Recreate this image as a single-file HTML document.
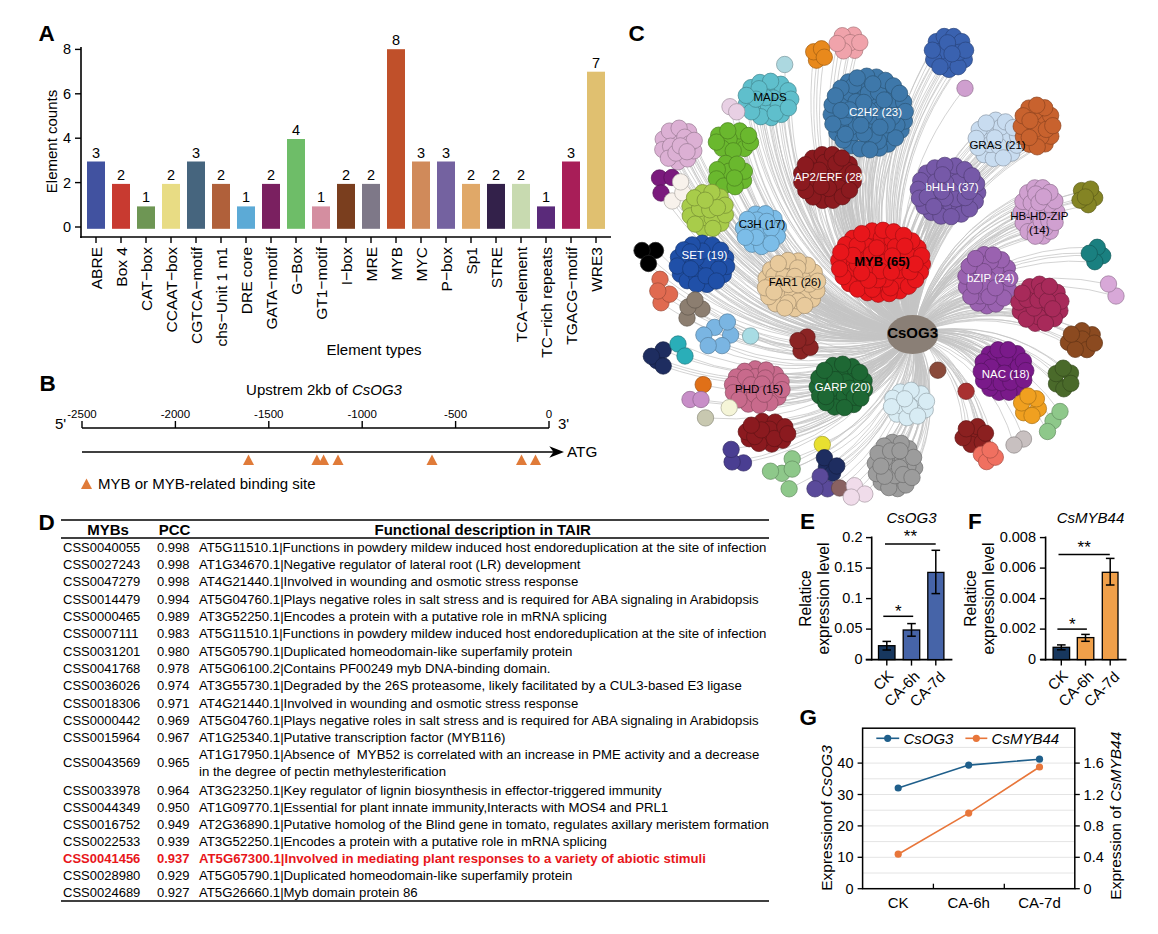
<!DOCTYPE html>
<html><head><meta charset="utf-8"><style>
html,body{margin:0;padding:0;background:#fff;}
svg{display:block;font-family:"Liberation Sans",sans-serif;}
</style></head><body>
<svg width="1158" height="934" viewBox="0 0 1158 934">
<rect width="1158" height="934" fill="#fff"/>
<text x="38.5" y="41.0" font-size="22.5" text-anchor="start" font-weight="bold" font-style="normal" fill="#000" >A</text>
<line x1="81.0" y1="47.0" x2="81.0" y2="238.0" stroke="#000" stroke-width="1.6"/>
<line x1="80.2" y1="237.0" x2="611.0" y2="237.0" stroke="#000" stroke-width="1.6"/>
<line x1="75.0" y1="227.0" x2="81.0" y2="227.0" stroke="#000" stroke-width="1.4"/>
<text x="71.0" y="232.0" font-size="14.5" text-anchor="end" font-weight="normal" font-style="normal" fill="#000" >0</text>
<line x1="75.0" y1="182.6" x2="81.0" y2="182.6" stroke="#000" stroke-width="1.4"/>
<text x="71.0" y="187.6" font-size="14.5" text-anchor="end" font-weight="normal" font-style="normal" fill="#000" >2</text>
<line x1="75.0" y1="138.2" x2="81.0" y2="138.2" stroke="#000" stroke-width="1.4"/>
<text x="71.0" y="143.2" font-size="14.5" text-anchor="end" font-weight="normal" font-style="normal" fill="#000" >4</text>
<line x1="75.0" y1="93.8" x2="81.0" y2="93.8" stroke="#000" stroke-width="1.4"/>
<text x="71.0" y="98.8" font-size="14.5" text-anchor="end" font-weight="normal" font-style="normal" fill="#000" >6</text>
<line x1="75.0" y1="49.4" x2="81.0" y2="49.4" stroke="#000" stroke-width="1.4"/>
<text x="71.0" y="54.4" font-size="14.5" text-anchor="end" font-weight="normal" font-style="normal" fill="#000" >8</text>
<text x="57.0" y="141.5" font-size="15" text-anchor="middle" font-weight="normal" font-style="normal" fill="#000" transform="rotate(-90 57 141.5)">Element counts</text>
<rect x="87.0" y="161.5" width="18.0" height="67.3" fill="#4152a0" stroke="none" stroke-width="0"/>
<text x="96.0" y="157.5" font-size="14.5" text-anchor="middle" font-weight="normal" font-style="normal" fill="#000" >3</text>
<line x1="96.0" y1="237.0" x2="96.0" y2="243.0" stroke="#000" stroke-width="1.4"/>
<text x="0" y="0" font-size="15.5" text-anchor="end" transform="translate(101.7,247) rotate(-90)">ABRE</text>
<rect x="112.0" y="183.9" width="18.0" height="44.9" fill="#c83a30" stroke="none" stroke-width="0"/>
<text x="121.0" y="179.9" font-size="14.5" text-anchor="middle" font-weight="normal" font-style="normal" fill="#000" >2</text>
<line x1="121.0" y1="237.0" x2="121.0" y2="243.0" stroke="#000" stroke-width="1.4"/>
<text x="0" y="0" font-size="15.5" text-anchor="end" transform="translate(126.7,247) rotate(-90)">Box 4</text>
<rect x="137.0" y="206.4" width="18.0" height="22.4" fill="#6e9654" stroke="none" stroke-width="0"/>
<text x="146.0" y="202.4" font-size="14.5" text-anchor="middle" font-weight="normal" font-style="normal" fill="#000" >1</text>
<line x1="146.0" y1="237.0" x2="146.0" y2="243.0" stroke="#000" stroke-width="1.4"/>
<text x="0" y="0" font-size="15.5" text-anchor="end" transform="translate(151.7,247) rotate(-90)">CAT−box</text>
<rect x="162.0" y="183.9" width="18.0" height="44.9" fill="#e8dc84" stroke="none" stroke-width="0"/>
<text x="171.0" y="179.9" font-size="14.5" text-anchor="middle" font-weight="normal" font-style="normal" fill="#000" >2</text>
<line x1="171.0" y1="237.0" x2="171.0" y2="243.0" stroke="#000" stroke-width="1.4"/>
<text x="0" y="0" font-size="15.5" text-anchor="end" transform="translate(176.7,247) rotate(-90)">CCAAT−box</text>
<rect x="187.0" y="161.5" width="18.0" height="67.3" fill="#46657e" stroke="none" stroke-width="0"/>
<text x="196.0" y="157.5" font-size="14.5" text-anchor="middle" font-weight="normal" font-style="normal" fill="#000" >3</text>
<line x1="196.0" y1="237.0" x2="196.0" y2="243.0" stroke="#000" stroke-width="1.4"/>
<text x="0" y="0" font-size="15.5" text-anchor="end" transform="translate(201.7,247) rotate(-90)">CGTCA−motif</text>
<rect x="212.0" y="183.9" width="18.0" height="44.9" fill="#b0603a" stroke="none" stroke-width="0"/>
<text x="221.0" y="179.9" font-size="14.5" text-anchor="middle" font-weight="normal" font-style="normal" fill="#000" >2</text>
<line x1="221.0" y1="237.0" x2="221.0" y2="243.0" stroke="#000" stroke-width="1.4"/>
<text x="0" y="0" font-size="15.5" text-anchor="end" transform="translate(226.7,247) rotate(-90)">chs−Unit 1 m1</text>
<rect x="237.0" y="206.4" width="18.0" height="22.4" fill="#5caad6" stroke="none" stroke-width="0"/>
<text x="246.0" y="202.4" font-size="14.5" text-anchor="middle" font-weight="normal" font-style="normal" fill="#000" >1</text>
<line x1="246.0" y1="237.0" x2="246.0" y2="243.0" stroke="#000" stroke-width="1.4"/>
<text x="0" y="0" font-size="15.5" text-anchor="end" transform="translate(251.7,247) rotate(-90)">DRE core</text>
<rect x="262.0" y="183.9" width="18.0" height="44.9" fill="#7a2060" stroke="none" stroke-width="0"/>
<text x="271.0" y="179.9" font-size="14.5" text-anchor="middle" font-weight="normal" font-style="normal" fill="#000" >2</text>
<line x1="271.0" y1="237.0" x2="271.0" y2="243.0" stroke="#000" stroke-width="1.4"/>
<text x="0" y="0" font-size="15.5" text-anchor="end" transform="translate(276.7,247) rotate(-90)">GATA−motif</text>
<rect x="287.0" y="139.0" width="18.0" height="89.8" fill="#6ebd68" stroke="none" stroke-width="0"/>
<text x="296.0" y="135.0" font-size="14.5" text-anchor="middle" font-weight="normal" font-style="normal" fill="#000" >4</text>
<line x1="296.0" y1="237.0" x2="296.0" y2="243.0" stroke="#000" stroke-width="1.4"/>
<text x="0" y="0" font-size="15.5" text-anchor="end" transform="translate(301.7,247) rotate(-90)">G−Box</text>
<rect x="312.0" y="206.4" width="18.0" height="22.4" fill="#d48ea0" stroke="none" stroke-width="0"/>
<text x="321.0" y="202.4" font-size="14.5" text-anchor="middle" font-weight="normal" font-style="normal" fill="#000" >1</text>
<line x1="321.0" y1="237.0" x2="321.0" y2="243.0" stroke="#000" stroke-width="1.4"/>
<text x="0" y="0" font-size="15.5" text-anchor="end" transform="translate(326.7,247) rotate(-90)">GT1−motif</text>
<rect x="337.0" y="183.9" width="18.0" height="44.9" fill="#7a3e1e" stroke="none" stroke-width="0"/>
<text x="346.0" y="179.9" font-size="14.5" text-anchor="middle" font-weight="normal" font-style="normal" fill="#000" >2</text>
<line x1="346.0" y1="237.0" x2="346.0" y2="243.0" stroke="#000" stroke-width="1.4"/>
<text x="0" y="0" font-size="15.5" text-anchor="end" transform="translate(351.7,247) rotate(-90)">I−box</text>
<rect x="362.0" y="183.9" width="18.0" height="44.9" fill="#7e7888" stroke="none" stroke-width="0"/>
<text x="371.0" y="179.9" font-size="14.5" text-anchor="middle" font-weight="normal" font-style="normal" fill="#000" >2</text>
<line x1="371.0" y1="237.0" x2="371.0" y2="243.0" stroke="#000" stroke-width="1.4"/>
<text x="0" y="0" font-size="15.5" text-anchor="end" transform="translate(376.7,247) rotate(-90)">MRE</text>
<rect x="387.0" y="49.2" width="18.0" height="179.6" fill="#c0502a" stroke="none" stroke-width="0"/>
<text x="396.0" y="45.2" font-size="14.5" text-anchor="middle" font-weight="normal" font-style="normal" fill="#000" >8</text>
<line x1="396.0" y1="237.0" x2="396.0" y2="243.0" stroke="#000" stroke-width="1.4"/>
<text x="0" y="0" font-size="15.5" text-anchor="end" transform="translate(401.7,247) rotate(-90)">MYB</text>
<rect x="412.0" y="161.5" width="18.0" height="67.3" fill="#d08a5a" stroke="none" stroke-width="0"/>
<text x="421.0" y="157.5" font-size="14.5" text-anchor="middle" font-weight="normal" font-style="normal" fill="#000" >3</text>
<line x1="421.0" y1="237.0" x2="421.0" y2="243.0" stroke="#000" stroke-width="1.4"/>
<text x="0" y="0" font-size="15.5" text-anchor="end" transform="translate(426.7,247) rotate(-90)">MYC</text>
<rect x="437.0" y="161.5" width="18.0" height="67.3" fill="#7462a0" stroke="none" stroke-width="0"/>
<text x="446.0" y="157.5" font-size="14.5" text-anchor="middle" font-weight="normal" font-style="normal" fill="#000" >3</text>
<line x1="446.0" y1="237.0" x2="446.0" y2="243.0" stroke="#000" stroke-width="1.4"/>
<text x="0" y="0" font-size="15.5" text-anchor="end" transform="translate(451.7,247) rotate(-90)">P−box</text>
<rect x="462.0" y="183.9" width="18.0" height="44.9" fill="#e0a868" stroke="none" stroke-width="0"/>
<text x="471.0" y="179.9" font-size="14.5" text-anchor="middle" font-weight="normal" font-style="normal" fill="#000" >2</text>
<line x1="471.0" y1="237.0" x2="471.0" y2="243.0" stroke="#000" stroke-width="1.4"/>
<text x="0" y="0" font-size="15.5" text-anchor="end" transform="translate(476.7,247) rotate(-90)">Sp1</text>
<rect x="487.0" y="183.9" width="18.0" height="44.9" fill="#33214a" stroke="none" stroke-width="0"/>
<text x="496.0" y="179.9" font-size="14.5" text-anchor="middle" font-weight="normal" font-style="normal" fill="#000" >2</text>
<line x1="496.0" y1="237.0" x2="496.0" y2="243.0" stroke="#000" stroke-width="1.4"/>
<text x="0" y="0" font-size="15.5" text-anchor="end" transform="translate(501.7,247) rotate(-90)">STRE</text>
<rect x="512.0" y="183.9" width="18.0" height="44.9" fill="#c8dab0" stroke="none" stroke-width="0"/>
<text x="521.0" y="179.9" font-size="14.5" text-anchor="middle" font-weight="normal" font-style="normal" fill="#000" >2</text>
<line x1="521.0" y1="237.0" x2="521.0" y2="243.0" stroke="#000" stroke-width="1.4"/>
<text x="0" y="0" font-size="15.5" text-anchor="end" transform="translate(526.7,247) rotate(-90)">TCA−element</text>
<rect x="537.0" y="206.4" width="18.0" height="22.4" fill="#5a2a7a" stroke="none" stroke-width="0"/>
<text x="546.0" y="202.4" font-size="14.5" text-anchor="middle" font-weight="normal" font-style="normal" fill="#000" >1</text>
<line x1="546.0" y1="237.0" x2="546.0" y2="243.0" stroke="#000" stroke-width="1.4"/>
<text x="0" y="0" font-size="15.5" text-anchor="end" transform="translate(551.7,247) rotate(-90)">TC−rich repeats</text>
<rect x="562.0" y="161.5" width="18.0" height="67.3" fill="#a81e58" stroke="none" stroke-width="0"/>
<text x="571.0" y="157.5" font-size="14.5" text-anchor="middle" font-weight="normal" font-style="normal" fill="#000" >3</text>
<line x1="571.0" y1="237.0" x2="571.0" y2="243.0" stroke="#000" stroke-width="1.4"/>
<text x="0" y="0" font-size="15.5" text-anchor="end" transform="translate(576.7,247) rotate(-90)">TGACG−motif</text>
<rect x="587.0" y="71.7" width="18.0" height="157.2" fill="#e0c070" stroke="none" stroke-width="0"/>
<text x="596.0" y="67.7" font-size="14.5" text-anchor="middle" font-weight="normal" font-style="normal" fill="#000" >7</text>
<line x1="596.0" y1="237.0" x2="596.0" y2="243.0" stroke="#000" stroke-width="1.4"/>
<text x="0" y="0" font-size="15.5" text-anchor="end" transform="translate(601.7,247) rotate(-90)">WRE3</text>
<text x="374.0" y="355.0" font-size="15" text-anchor="middle" font-weight="normal" font-style="normal" fill="#000" >Element types</text>
<text x="39.5" y="391.0" font-size="22.5" text-anchor="start" font-weight="bold" font-style="normal" fill="#000" >B</text>
<text x="324.0" y="395.0" font-size="15" text-anchor="middle" font-weight="normal" font-style="normal" fill="#000" >Upstrem 2kb of <tspan font-style="italic">CsOG3</tspan></text>
<line x1="82.0" y1="428.0" x2="549.0" y2="428.0" stroke="#000" stroke-width="1.6"/>
<line x1="82.0" y1="421.0" x2="82.0" y2="428.0" stroke="#000" stroke-width="1.4"/>
<text x="82.0" y="418.0" font-size="11.5" text-anchor="middle" font-weight="normal" font-style="normal" fill="#000" >-2500</text>
<line x1="175.4" y1="421.0" x2="175.4" y2="428.0" stroke="#000" stroke-width="1.4"/>
<text x="175.4" y="418.0" font-size="11.5" text-anchor="middle" font-weight="normal" font-style="normal" fill="#000" >-2000</text>
<line x1="268.8" y1="421.0" x2="268.8" y2="428.0" stroke="#000" stroke-width="1.4"/>
<text x="268.8" y="418.0" font-size="11.5" text-anchor="middle" font-weight="normal" font-style="normal" fill="#000" >-1500</text>
<line x1="362.2" y1="421.0" x2="362.2" y2="428.0" stroke="#000" stroke-width="1.4"/>
<text x="362.2" y="418.0" font-size="11.5" text-anchor="middle" font-weight="normal" font-style="normal" fill="#000" >-1000</text>
<line x1="455.6" y1="421.0" x2="455.6" y2="428.0" stroke="#000" stroke-width="1.4"/>
<text x="455.6" y="418.0" font-size="11.5" text-anchor="middle" font-weight="normal" font-style="normal" fill="#000" >-500</text>
<line x1="549.0" y1="421.0" x2="549.0" y2="428.0" stroke="#000" stroke-width="1.4"/>
<text x="549.0" y="418.0" font-size="11.5" text-anchor="middle" font-weight="normal" font-style="normal" fill="#000" >0</text>
<text x="60.5" y="429.0" font-size="15" text-anchor="middle" font-weight="normal" font-style="normal" fill="#000" >5'</text>
<text x="558.0" y="429.0" font-size="15" text-anchor="start" font-weight="normal" font-style="normal" fill="#000" >3'</text>
<line x1="82.0" y1="452.0" x2="555.0" y2="452.0" stroke="#000" stroke-width="1.4"/>
<polygon points="549.3,446.3 564,452 549.3,457.7 553.5,452" fill="#000"/>
<text x="567.0" y="456.5" font-size="15.3" text-anchor="start" font-weight="normal" font-style="normal" fill="#000" >ATG</text>
<polygon points="243.0,465 254.0,465 248.5,454.5" fill="#e07b39"/>
<polygon points="311.4,465 322.4,465 316.9,454.5" fill="#e07b39"/>
<polygon points="318.1,465 329.1,465 323.6,454.5" fill="#e07b39"/>
<polygon points="332.5,465 343.5,465 338,454.5" fill="#e07b39"/>
<polygon points="426.5,465 437.5,465 432,454.5" fill="#e07b39"/>
<polygon points="516.0,465 527.0,465 521.5,454.5" fill="#e07b39"/>
<polygon points="530.0,465 541.0,465 535.5,454.5" fill="#e07b39"/>
<polygon points="81,489 92,489 86.5,478.5" fill="#e07b39"/>
<text x="98.0" y="489.0" font-size="15" text-anchor="start" font-weight="normal" font-style="normal" fill="#000" >MYB or MYB-related binding site</text>
<text x="38.5" y="530.0" font-size="22.5" text-anchor="start" font-weight="bold" font-style="normal" fill="#000" >D</text>
<line x1="61.0" y1="520.0" x2="769.0" y2="520.0" stroke="#000" stroke-width="1.4"/>
<line x1="61.0" y1="538.0" x2="769.0" y2="538.0" stroke="#000" stroke-width="1.4"/>
<line x1="61.0" y1="901.0" x2="769.0" y2="901.0" stroke="#000" stroke-width="1.4"/>
<text x="108.1" y="535.0" font-size="15" text-anchor="middle" font-weight="bold" font-style="normal" fill="#000" >MYBs</text>
<text x="174.6" y="535.0" font-size="15" text-anchor="middle" font-weight="bold" font-style="normal" fill="#000" >PCC</text>
<text x="482.7" y="535.0" font-size="15" text-anchor="middle" font-weight="bold" font-style="normal" fill="#000" >Functional description in TAIR</text>
<text x="63.0" y="551.8" font-size="13" text-anchor="start" font-weight="normal" font-style="normal" fill="#000" >CSS0040055</text>
<text x="157.0" y="551.8" font-size="13" text-anchor="start" font-weight="normal" font-style="normal" fill="#000" >0.998</text>
<text x="199.0" y="551.8" font-size="13.2" text-anchor="start" font-weight="normal" font-style="normal" fill="#000" >AT5G11510.1|Functions in powdery mildew induced host endoreduplication at the site of infection</text>
<text x="63.0" y="569.1" font-size="13" text-anchor="start" font-weight="normal" font-style="normal" fill="#000" >CSS0027243</text>
<text x="157.0" y="569.1" font-size="13" text-anchor="start" font-weight="normal" font-style="normal" fill="#000" >0.998</text>
<text x="199.0" y="569.1" font-size="13.2" text-anchor="start" font-weight="normal" font-style="normal" fill="#000" >AT1G34670.1|Negative regulator of lateral root (LR) development</text>
<text x="63.0" y="586.4" font-size="13" text-anchor="start" font-weight="normal" font-style="normal" fill="#000" >CSS0047279</text>
<text x="157.0" y="586.4" font-size="13" text-anchor="start" font-weight="normal" font-style="normal" fill="#000" >0.998</text>
<text x="199.0" y="586.4" font-size="13.2" text-anchor="start" font-weight="normal" font-style="normal" fill="#000" >AT4G21440.1|Involved in wounding and osmotic stress response</text>
<text x="63.0" y="603.7" font-size="13" text-anchor="start" font-weight="normal" font-style="normal" fill="#000" >CSS0014479</text>
<text x="157.0" y="603.7" font-size="13" text-anchor="start" font-weight="normal" font-style="normal" fill="#000" >0.994</text>
<text x="199.0" y="603.7" font-size="13.2" text-anchor="start" font-weight="normal" font-style="normal" fill="#000" >AT5G04760.1|Plays negative roles in salt stress and is required for ABA signaling in Arabidopsis</text>
<text x="63.0" y="621.0" font-size="13" text-anchor="start" font-weight="normal" font-style="normal" fill="#000" >CSS0000465</text>
<text x="157.0" y="621.0" font-size="13" text-anchor="start" font-weight="normal" font-style="normal" fill="#000" >0.989</text>
<text x="199.0" y="621.0" font-size="13.2" text-anchor="start" font-weight="normal" font-style="normal" fill="#000" >AT3G52250.1|Encodes a protein with a putative role in mRNA splicing</text>
<text x="63.0" y="638.3" font-size="13" text-anchor="start" font-weight="normal" font-style="normal" fill="#000" >CSS0007111</text>
<text x="157.0" y="638.3" font-size="13" text-anchor="start" font-weight="normal" font-style="normal" fill="#000" >0.983</text>
<text x="199.0" y="638.3" font-size="13.2" text-anchor="start" font-weight="normal" font-style="normal" fill="#000" >AT5G11510.1|Functions in powdery mildew induced host endoreduplication at the site of infection</text>
<text x="63.0" y="655.6" font-size="13" text-anchor="start" font-weight="normal" font-style="normal" fill="#000" >CSS0031201</text>
<text x="157.0" y="655.6" font-size="13" text-anchor="start" font-weight="normal" font-style="normal" fill="#000" >0.980</text>
<text x="199.0" y="655.6" font-size="13.2" text-anchor="start" font-weight="normal" font-style="normal" fill="#000" >AT5G05790.1|Duplicated homeodomain-like superfamily protein</text>
<text x="63.0" y="672.9" font-size="13" text-anchor="start" font-weight="normal" font-style="normal" fill="#000" >CSS0041768</text>
<text x="157.0" y="672.9" font-size="13" text-anchor="start" font-weight="normal" font-style="normal" fill="#000" >0.978</text>
<text x="199.0" y="672.9" font-size="13.2" text-anchor="start" font-weight="normal" font-style="normal" fill="#000" >AT5G06100.2|Contains PF00249 myb DNA-binding domain.</text>
<text x="63.0" y="690.2" font-size="13" text-anchor="start" font-weight="normal" font-style="normal" fill="#000" >CSS0036026</text>
<text x="157.0" y="690.2" font-size="13" text-anchor="start" font-weight="normal" font-style="normal" fill="#000" >0.974</text>
<text x="199.0" y="690.2" font-size="13.2" text-anchor="start" font-weight="normal" font-style="normal" fill="#000" >AT3G55730.1|Degraded by the 26S proteasome, likely facilitated by a CUL3-based E3 ligase</text>
<text x="63.0" y="707.5" font-size="13" text-anchor="start" font-weight="normal" font-style="normal" fill="#000" >CSS0018306</text>
<text x="157.0" y="707.5" font-size="13" text-anchor="start" font-weight="normal" font-style="normal" fill="#000" >0.971</text>
<text x="199.0" y="707.5" font-size="13.2" text-anchor="start" font-weight="normal" font-style="normal" fill="#000" >AT4G21440.1|Involved in wounding and osmotic stress response</text>
<text x="63.0" y="724.8" font-size="13" text-anchor="start" font-weight="normal" font-style="normal" fill="#000" >CSS0000442</text>
<text x="157.0" y="724.8" font-size="13" text-anchor="start" font-weight="normal" font-style="normal" fill="#000" >0.969</text>
<text x="199.0" y="724.8" font-size="13.2" text-anchor="start" font-weight="normal" font-style="normal" fill="#000" >AT5G04760.1|Plays negative roles in salt stress and is required for ABA signaling in Arabidopsis</text>
<text x="63.0" y="742.1" font-size="13" text-anchor="start" font-weight="normal" font-style="normal" fill="#000" >CSS0015964</text>
<text x="157.0" y="742.1" font-size="13" text-anchor="start" font-weight="normal" font-style="normal" fill="#000" >0.967</text>
<text x="199.0" y="742.1" font-size="13.2" text-anchor="start" font-weight="normal" font-style="normal" fill="#000" >AT1G25340.1|Putative transcription factor (MYB116)</text>
<text x="63.0" y="766.5" font-size="13" text-anchor="start" font-weight="normal" font-style="normal" fill="#000" >CSS0043569</text>
<text x="157.0" y="766.5" font-size="13" text-anchor="start" font-weight="normal" font-style="normal" fill="#000" >0.965</text>
<text x="199.0" y="759.1" font-size="13.2" text-anchor="start" font-weight="normal" font-style="normal" fill="#000" >AT1G17950.1|Absence of &#160;MYB52 is correlated with an increase in PME activity and a decrease</text>
<text x="199.0" y="776.0" font-size="13.2" text-anchor="start" font-weight="normal" font-style="normal" fill="#000" >in the degree of pectin methylesterification</text>
<text x="63.0" y="795.0" font-size="13" text-anchor="start" font-weight="normal" font-style="normal" fill="#000" >CSS0033978</text>
<text x="157.0" y="795.0" font-size="13" text-anchor="start" font-weight="normal" font-style="normal" fill="#000" >0.964</text>
<text x="199.0" y="795.0" font-size="13.2" text-anchor="start" font-weight="normal" font-style="normal" fill="#000" >AT3G23250.1|Key regulator of lignin biosynthesis in effector-triggered immunity</text>
<text x="63.0" y="812.0" font-size="13" text-anchor="start" font-weight="normal" font-style="normal" fill="#000" >CSS0044349</text>
<text x="157.0" y="812.0" font-size="13" text-anchor="start" font-weight="normal" font-style="normal" fill="#000" >0.950</text>
<text x="199.0" y="812.0" font-size="13.2" text-anchor="start" font-weight="normal" font-style="normal" fill="#000" >AT1G09770.1|Essential for plant innate immunity,Interacts with MOS4 and PRL1</text>
<text x="63.0" y="829.1" font-size="13" text-anchor="start" font-weight="normal" font-style="normal" fill="#000" >CSS0016752</text>
<text x="157.0" y="829.1" font-size="13" text-anchor="start" font-weight="normal" font-style="normal" fill="#000" >0.949</text>
<text x="199.0" y="829.1" font-size="13.2" text-anchor="start" font-weight="normal" font-style="normal" fill="#000" >AT2G36890.1|Putative homolog of the Blind gene in tomato, regulates axillary meristem formation</text>
<text x="63.0" y="846.1" font-size="13" text-anchor="start" font-weight="normal" font-style="normal" fill="#000" >CSS0022533</text>
<text x="157.0" y="846.1" font-size="13" text-anchor="start" font-weight="normal" font-style="normal" fill="#000" >0.939</text>
<text x="199.0" y="846.1" font-size="13.2" text-anchor="start" font-weight="normal" font-style="normal" fill="#000" >AT3G52250.1|Encodes a protein with a putative role in mRNA splicing</text>
<text x="63.0" y="863.2" font-size="13" text-anchor="start" font-weight="bold" font-style="normal" fill="#e8161b" >CSS0041456</text>
<text x="157.0" y="863.2" font-size="13" text-anchor="start" font-weight="bold" font-style="normal" fill="#e8161b" >0.937</text>
<text x="199.0" y="863.2" font-size="13.2" text-anchor="start" font-weight="bold" font-style="normal" fill="#e8161b" >AT5G67300.1|Involved in mediating plant responses to a variety of abiotic stimuli</text>
<text x="63.0" y="880.2" font-size="13" text-anchor="start" font-weight="normal" font-style="normal" fill="#000" >CSS0028980</text>
<text x="157.0" y="880.2" font-size="13" text-anchor="start" font-weight="normal" font-style="normal" fill="#000" >0.929</text>
<text x="199.0" y="880.2" font-size="13.2" text-anchor="start" font-weight="normal" font-style="normal" fill="#000" >AT5G05790.1|Duplicated homeodomain-like superfamily protein</text>
<text x="63.0" y="897.3" font-size="13" text-anchor="start" font-weight="normal" font-style="normal" fill="#000" >CSS0024689</text>
<text x="157.0" y="897.3" font-size="13" text-anchor="start" font-weight="normal" font-style="normal" fill="#000" >0.927</text>
<text x="199.0" y="897.3" font-size="13.2" text-anchor="start" font-weight="normal" font-style="normal" fill="#000" >AT5G26660.1|Myb domain protein 86</text>
<text x="800.0" y="529.0" font-size="22.5" text-anchor="start" font-weight="bold" font-style="normal" fill="#000" >E</text>
<text x="911.5" y="523.0" font-size="15" text-anchor="middle" font-weight="normal" font-style="italic" fill="#000" >CsOG3</text>
<line x1="871.7" y1="536.5" x2="871.7" y2="660.5" stroke="#000" stroke-width="1.6"/>
<line x1="865.7" y1="659.6" x2="952.4" y2="659.6" stroke="#000" stroke-width="1.8"/>
<line x1="866.0" y1="659.6" x2="871.7" y2="659.6" stroke="#000" stroke-width="1.4"/>
<text x="862.5" y="663.6" font-size="14.5" text-anchor="end" font-weight="normal" font-style="normal" fill="#000" >0</text>
<line x1="866.0" y1="629.1" x2="871.7" y2="629.1" stroke="#000" stroke-width="1.4"/>
<text x="862.5" y="633.1" font-size="14.5" text-anchor="end" font-weight="normal" font-style="normal" fill="#000" >0.05</text>
<line x1="866.0" y1="598.6" x2="871.7" y2="598.6" stroke="#000" stroke-width="1.4"/>
<text x="862.5" y="602.6" font-size="14.5" text-anchor="end" font-weight="normal" font-style="normal" fill="#000" >0.1</text>
<line x1="866.0" y1="568.1" x2="871.7" y2="568.1" stroke="#000" stroke-width="1.4"/>
<text x="862.5" y="572.1" font-size="14.5" text-anchor="end" font-weight="normal" font-style="normal" fill="#000" >0.15</text>
<line x1="866.0" y1="537.6" x2="871.7" y2="537.6" stroke="#000" stroke-width="1.4"/>
<text x="862.5" y="541.6" font-size="14.5" text-anchor="end" font-weight="normal" font-style="normal" fill="#000" >0.2</text>
<text x="811.0" y="598.5" font-size="15.6" text-anchor="middle" font-weight="normal" font-style="normal" fill="#000" transform="rotate(-90 811 598.5)">Relatice</text>
<text x="829.0" y="598.5" font-size="15.6" text-anchor="middle" font-weight="normal" font-style="normal" fill="#000" transform="rotate(-90 829 598.5)">expression level</text>
<rect x="878.5" y="645.7" width="16.5" height="13.9" fill="#17375e" stroke="#000" stroke-width="1.3"/>
<line x1="886.8" y1="641.4" x2="886.8" y2="650.0" stroke="#000" stroke-width="1.5"/>
<line x1="882.5" y1="641.4" x2="891.0" y2="641.4" stroke="#000" stroke-width="1.5"/>
<line x1="882.5" y1="650.0" x2="891.0" y2="650.0" stroke="#000" stroke-width="1.5"/>
<line x1="886.8" y1="659.6" x2="886.8" y2="665.6" stroke="#000" stroke-width="1.4"/>
<rect x="903.2" y="630.0" width="16.5" height="29.6" fill="#4664a8" stroke="#000" stroke-width="1.3"/>
<line x1="911.5" y1="623.6" x2="911.5" y2="636.2" stroke="#000" stroke-width="1.5"/>
<line x1="907.2" y1="623.6" x2="915.8" y2="623.6" stroke="#000" stroke-width="1.5"/>
<line x1="907.2" y1="636.2" x2="915.8" y2="636.2" stroke="#000" stroke-width="1.5"/>
<line x1="911.5" y1="659.6" x2="911.5" y2="665.6" stroke="#000" stroke-width="1.4"/>
<rect x="927.8" y="572.4" width="16.1" height="87.2" fill="#4664a8" stroke="#000" stroke-width="1.3"/>
<line x1="935.8" y1="550.3" x2="935.8" y2="593.6" stroke="#000" stroke-width="1.5"/>
<line x1="931.5" y1="550.3" x2="940.1" y2="550.3" stroke="#000" stroke-width="1.5"/>
<line x1="931.5" y1="593.6" x2="940.1" y2="593.6" stroke="#000" stroke-width="1.5"/>
<line x1="935.8" y1="659.6" x2="935.8" y2="665.6" stroke="#000" stroke-width="1.4"/>
<text x="0" y="0" font-size="15" text-anchor="end" transform="translate(894.25,676.6) rotate(-45)">CK</text>
<text x="0" y="0" font-size="15" text-anchor="end" transform="translate(920.6500000000001,677.4) rotate(-45)">CA-6h</text>
<text x="0" y="0" font-size="15" text-anchor="end" transform="translate(946.05,677.8000000000001) rotate(-45)">CA-7d</text>
<line x1="883.3" y1="616.3" x2="913.2" y2="616.3" stroke="#000" stroke-width="1.5"/>
<text x="898.2" y="617.0" font-size="17" text-anchor="middle" font-weight="normal" font-style="normal" fill="#000" >*</text>
<line x1="885.0" y1="544.0" x2="935.7" y2="544.0" stroke="#000" stroke-width="1.5"/>
<text x="910.4" y="541.5" font-size="17" text-anchor="middle" font-weight="normal" font-style="normal" fill="#000" >**</text>
<text x="968.0" y="529.0" font-size="22.5" text-anchor="start" font-weight="bold" font-style="normal" fill="#000" >F</text>
<text x="1090.5" y="523.0" font-size="15" text-anchor="middle" font-weight="normal" font-style="italic" fill="#000" >CsMYB44</text>
<line x1="1045.6" y1="536.5" x2="1045.6" y2="660.5" stroke="#000" stroke-width="1.6"/>
<line x1="1040.3" y1="659.6" x2="1126.5" y2="659.6" stroke="#000" stroke-width="1.8"/>
<line x1="1039.9" y1="659.6" x2="1045.6" y2="659.6" stroke="#000" stroke-width="1.4"/>
<text x="1036.0" y="663.6" font-size="14.5" text-anchor="end" font-weight="normal" font-style="normal" fill="#000" >0</text>
<line x1="1039.9" y1="629.1" x2="1045.6" y2="629.1" stroke="#000" stroke-width="1.4"/>
<text x="1036.0" y="633.1" font-size="14.5" text-anchor="end" font-weight="normal" font-style="normal" fill="#000" >0.002</text>
<line x1="1039.9" y1="598.6" x2="1045.6" y2="598.6" stroke="#000" stroke-width="1.4"/>
<text x="1036.0" y="602.6" font-size="14.5" text-anchor="end" font-weight="normal" font-style="normal" fill="#000" >0.004</text>
<line x1="1039.9" y1="568.1" x2="1045.6" y2="568.1" stroke="#000" stroke-width="1.4"/>
<text x="1036.0" y="572.1" font-size="14.5" text-anchor="end" font-weight="normal" font-style="normal" fill="#000" >0.006</text>
<line x1="1039.9" y1="537.6" x2="1045.6" y2="537.6" stroke="#000" stroke-width="1.4"/>
<text x="1036.0" y="541.6" font-size="14.5" text-anchor="end" font-weight="normal" font-style="normal" fill="#000" >0.008</text>
<text x="975.5" y="598.5" font-size="15.6" text-anchor="middle" font-weight="normal" font-style="normal" fill="#000" transform="rotate(-90 975.5 598.5)">Relatice</text>
<text x="993.5" y="598.5" font-size="15.6" text-anchor="middle" font-weight="normal" font-style="normal" fill="#000" transform="rotate(-90 993.5 598.5)">expression level</text>
<rect x="1053.1" y="647.3" width="16.5" height="12.3" fill="#17375e" stroke="#000" stroke-width="1.3"/>
<line x1="1061.3" y1="644.9" x2="1061.3" y2="649.8" stroke="#000" stroke-width="1.5"/>
<line x1="1057.0" y1="644.9" x2="1065.6" y2="644.9" stroke="#000" stroke-width="1.5"/>
<line x1="1057.0" y1="649.8" x2="1065.6" y2="649.8" stroke="#000" stroke-width="1.5"/>
<line x1="1061.3" y1="659.6" x2="1061.3" y2="665.6" stroke="#000" stroke-width="1.4"/>
<rect x="1077.3" y="637.6" width="16.5" height="22.0" fill="#f0a04a" stroke="#000" stroke-width="1.3"/>
<line x1="1085.5" y1="634.4" x2="1085.5" y2="641.3" stroke="#000" stroke-width="1.5"/>
<line x1="1081.2" y1="634.4" x2="1089.8" y2="634.4" stroke="#000" stroke-width="1.5"/>
<line x1="1081.2" y1="641.3" x2="1089.8" y2="641.3" stroke="#000" stroke-width="1.5"/>
<line x1="1085.5" y1="659.6" x2="1085.5" y2="665.6" stroke="#000" stroke-width="1.4"/>
<rect x="1102.3" y="572.3" width="15.7" height="87.3" fill="#f0a04a" stroke="#000" stroke-width="1.3"/>
<line x1="1110.2" y1="558.4" x2="1110.2" y2="585.0" stroke="#000" stroke-width="1.5"/>
<line x1="1105.9" y1="558.4" x2="1114.5" y2="558.4" stroke="#000" stroke-width="1.5"/>
<line x1="1105.9" y1="585.0" x2="1114.5" y2="585.0" stroke="#000" stroke-width="1.5"/>
<line x1="1110.2" y1="659.6" x2="1110.2" y2="665.6" stroke="#000" stroke-width="1.4"/>
<text x="0" y="0" font-size="15" text-anchor="end" transform="translate(1068.85,676.6) rotate(-45)">CK</text>
<text x="0" y="0" font-size="15" text-anchor="end" transform="translate(1094.75,677.4) rotate(-45)">CA-6h</text>
<text x="0" y="0" font-size="15" text-anchor="end" transform="translate(1120.3500000000001,677.8000000000001) rotate(-45)">CA-7d</text>
<line x1="1057.4" y1="629.1" x2="1086.9" y2="629.1" stroke="#000" stroke-width="1.5"/>
<text x="1072.2" y="630.0" font-size="17" text-anchor="middle" font-weight="normal" font-style="normal" fill="#000" >*</text>
<line x1="1058.5" y1="554.6" x2="1109.8" y2="554.6" stroke="#000" stroke-width="1.5"/>
<text x="1084.2" y="552.5" font-size="17" text-anchor="middle" font-weight="normal" font-style="normal" fill="#000" >**</text>
<text x="799.5" y="725.0" font-size="22.5" text-anchor="start" font-weight="bold" font-style="normal" fill="#000" >G</text>
<line x1="862.6" y1="873.0" x2="1074.8" y2="873.0" stroke="#e4e4e4" stroke-width="1"/>
<line x1="862.6" y1="857.3" x2="1074.8" y2="857.3" stroke="#e4e4e4" stroke-width="1"/>
<line x1="862.6" y1="841.6" x2="1074.8" y2="841.6" stroke="#e4e4e4" stroke-width="1"/>
<line x1="862.6" y1="825.9" x2="1074.8" y2="825.9" stroke="#e4e4e4" stroke-width="1"/>
<line x1="862.6" y1="810.2" x2="1074.8" y2="810.2" stroke="#e4e4e4" stroke-width="1"/>
<line x1="862.6" y1="794.5" x2="1074.8" y2="794.5" stroke="#e4e4e4" stroke-width="1"/>
<line x1="862.6" y1="778.8" x2="1074.8" y2="778.8" stroke="#e4e4e4" stroke-width="1"/>
<line x1="862.6" y1="763.1" x2="1074.8" y2="763.1" stroke="#e4e4e4" stroke-width="1"/>
<line x1="862.6" y1="747.4" x2="1074.8" y2="747.4" stroke="#e4e4e4" stroke-width="1"/>
<rect x="862.6" y="728.2" width="212.2" height="160.5" fill="none" stroke="#000" stroke-width="1.5"/>
<line x1="857.6" y1="888.7" x2="862.6" y2="888.7" stroke="#000" stroke-width="1.3"/>
<text x="853.5" y="893.7" font-size="14.5" text-anchor="end" font-weight="normal" font-style="normal" fill="#000" >0</text>
<line x1="857.6" y1="857.3" x2="862.6" y2="857.3" stroke="#000" stroke-width="1.3"/>
<text x="853.5" y="862.3" font-size="14.5" text-anchor="end" font-weight="normal" font-style="normal" fill="#000" >10</text>
<line x1="857.6" y1="825.9" x2="862.6" y2="825.9" stroke="#000" stroke-width="1.3"/>
<text x="853.5" y="830.9" font-size="14.5" text-anchor="end" font-weight="normal" font-style="normal" fill="#000" >20</text>
<line x1="857.6" y1="794.5" x2="862.6" y2="794.5" stroke="#000" stroke-width="1.3"/>
<text x="853.5" y="799.5" font-size="14.5" text-anchor="end" font-weight="normal" font-style="normal" fill="#000" >30</text>
<line x1="857.6" y1="763.1" x2="862.6" y2="763.1" stroke="#000" stroke-width="1.3"/>
<text x="853.5" y="768.1" font-size="14.5" text-anchor="end" font-weight="normal" font-style="normal" fill="#000" >40</text>
<line x1="1074.8" y1="888.7" x2="1079.8" y2="888.7" stroke="#000" stroke-width="1.3"/>
<text x="1083.6" y="893.7" font-size="14.5" text-anchor="start" font-weight="normal" font-style="normal" fill="#000" >0</text>
<line x1="1074.8" y1="857.3" x2="1079.8" y2="857.3" stroke="#000" stroke-width="1.3"/>
<text x="1083.6" y="862.3" font-size="14.5" text-anchor="start" font-weight="normal" font-style="normal" fill="#000" >0.4</text>
<line x1="1074.8" y1="825.9" x2="1079.8" y2="825.9" stroke="#000" stroke-width="1.3"/>
<text x="1083.6" y="830.9" font-size="14.5" text-anchor="start" font-weight="normal" font-style="normal" fill="#000" >0.8</text>
<line x1="1074.8" y1="794.5" x2="1079.8" y2="794.5" stroke="#000" stroke-width="1.3"/>
<text x="1083.6" y="799.5" font-size="14.5" text-anchor="start" font-weight="normal" font-style="normal" fill="#000" >1.2</text>
<line x1="1074.8" y1="763.1" x2="1079.8" y2="763.1" stroke="#000" stroke-width="1.3"/>
<text x="1083.6" y="768.1" font-size="14.5" text-anchor="start" font-weight="normal" font-style="normal" fill="#000" >1.6</text>
<line x1="933.4" y1="883.7" x2="933.4" y2="888.7" stroke="#000" stroke-width="1.3"/>
<line x1="1004.3" y1="883.7" x2="1004.3" y2="888.7" stroke="#000" stroke-width="1.3"/>
<text x="898.2" y="907.5" font-size="15" text-anchor="middle" font-weight="normal" font-style="normal" fill="#000" >CK</text>
<text x="968.7" y="907.5" font-size="15" text-anchor="middle" font-weight="normal" font-style="normal" fill="#000" >CA-6h</text>
<text x="1039.5" y="907.5" font-size="15" text-anchor="middle" font-weight="normal" font-style="normal" fill="#000" >CA-7d</text>
<text x="832.0" y="818.0" font-size="15.5" text-anchor="middle" font-weight="normal" font-style="normal" fill="#000" transform="rotate(-90 832 818)">Expressionof <tspan font-style="italic">CsOG3</tspan></text>
<text x="1121.5" y="815.7" font-size="15.5" text-anchor="middle" font-weight="normal" font-style="normal" fill="#000" transform="rotate(-90 1121.5 815.7)">Expression of <tspan font-style="italic">CsMYB44</tspan></text>
<polyline points="898.2,788 968.7,765.1 1039.5,759.2" fill="none" stroke="#1f5f8b" stroke-width="1.6"/>
<polyline points="898.2,854.2 968.7,813.1 1039.5,767" fill="none" stroke="#e8763a" stroke-width="1.6"/>
<circle cx="898.2" cy="788" r="3.6" fill="#1f5f8b"/>
<circle cx="968.7" cy="765.1" r="3.6" fill="#1f5f8b"/>
<circle cx="1039.5" cy="759.2" r="3.6" fill="#1f5f8b"/>
<circle cx="898.2" cy="854.2" r="3.6" fill="#e8763a"/>
<circle cx="968.7" cy="813.1" r="3.6" fill="#e8763a"/>
<circle cx="1039.5" cy="767" r="3.6" fill="#e8763a"/>
<line x1="876.3" y1="738.3" x2="899.2" y2="738.3" stroke="#1f5f8b" stroke-width="1.6"/>
<circle cx="887.7" cy="738.3" r="3.6" fill="#1f5f8b"/>
<line x1="965.4" y1="738.3" x2="987.3" y2="738.3" stroke="#e8763a" stroke-width="1.6"/>
<circle cx="976.3" cy="738.3" r="3.6" fill="#e8763a"/>
<text x="903.4" y="744.0" font-size="15" text-anchor="start" font-weight="normal" font-style="italic" fill="#000" >CsOG3</text>
<text x="991.6" y="744.0" font-size="15" text-anchor="start" font-weight="normal" font-style="italic" fill="#000" >CsMYB44</text>
<text x="628.5" y="40.5" font-size="22.5" text-anchor="start" font-weight="bold" font-style="normal" fill="#000" >C</text>
<path d="M913 334Q808 200 854 35M913 334Q803 203 842 36M913 334Q813 207 855 50M913 334Q808 204 850 43M913 334Q807 210 843 51M913 334Q802 208 837 44M913 334Q813 202 860 42M913 334Q796 221 817 60M913 334Q793 218 814 52M913 334Q796 214 821 49M913 334Q799 218 824 57M913 334Q853 245 888 144M913 334Q856 235 901 130M913 334Q825 227 858 91M913 334Q838 241 869 125M913 334Q835 255 851 146M913 334Q821 235 846 101M913 334Q849 226 898 110M913 334Q833 248 854 133M913 334Q843 249 870 142M913 334Q838 235 873 116M913 334Q825 221 864 83M913 334Q829 240 855 116M913 334Q834 228 873 101M913 334Q821 245 837 118M913 334Q840 255 860 149M913 334Q830 246 851 127M913 334Q855 230 904 121M913 334Q824 253 837 133M913 334Q824 248 841 126M913 334Q848 241 884 134M913 334Q840 230 880 109M913 334Q830 215 876 77M913 334Q835 233 869 110M913 334Q849 250 879 148M913 334Q847 246 878 141M913 334Q821 229 850 93M913 334Q844 245 874 135M913 334Q824 243 845 117M913 334Q852 234 897 125M913 334Q834 238 864 117M913 334Q817 224 848 82M913 334Q829 255 843 140M913 334Q826 232 856 102M913 334Q844 227 889 108M913 334Q830 225 868 93M913 334Q840 220 888 93M913 334Q844 222 893 100M913 334Q838 246 864 134M913 334Q835 222 878 92M913 334Q848 231 892 117M913 334Q829 251 845 134M913 334Q817 245 831 115M913 334Q845 253 870 150M913 334Q830 235 860 109M913 334Q834 243 861 125M913 334Q821 225 854 86M913 334Q844 233 884 116M913 334Q855 240 895 138M913 334Q825 217 867 76M913 334Q815 229 841 88M913 334Q825 238 850 110M913 334Q815 240 832 105M913 334Q847 236 887 125M913 334Q830 231 864 102M913 334Q850 221 904 102M913 334Q840 224 884 100M913 334Q814 235 835 96M913 334Q835 214 885 80M913 334Q821 220 857 78M913 334Q821 240 841 110M913 334Q820 249 833 124M913 334Q841 215 893 86M913 334Q853 225 905 111M913 334Q844 239 880 127M913 334Q830 219 873 84M913 334Q846 217 900 93M913 334Q780 248 769 90M913 334Q780 257 761 105M913 334Q788 261 771 118M913 334Q789 249 783 99M913 334Q784 242 781 84M913 334Q789 244 788 91M913 334Q783 256 768 106M913 334Q770 251 751 88M913 334Q782 264 761 117M913 334Q784 251 773 98M913 334Q780 253 766 98M913 334Q773 247 760 82M913 334Q772 261 746 104M913 334Q788 254 778 106M913 334Q792 257 781 114M913 334Q789 258 775 113M913 334Q778 243 771 81M913 334Q776 263 752 112M913 334Q774 250 759 89M913 334Q793 247 791 99M913 334Q775 256 756 99M913 334Q794 252 788 108M913 334Q770 257 746 95M913 334Q781 231 785 64M913 334Q764 266 730 107M913 334Q769 267 737 112M913 334Q739 299 663 139M913 334Q746 295 677 137M913 334Q740 294 669 131M913 334Q750 289 689 132M913 334Q752 307 678 162M913 334Q741 304 663 150M913 334Q744 290 679 128M913 334Q756 303 688 159M913 334Q757 297 694 151M913 334Q749 293 685 137M913 334Q745 301 671 146M913 334Q753 295 689 144M913 334Q746 307 668 158M913 334Q755 292 694 140M913 334Q749 303 676 153M913 334Q749 298 680 146M913 334Q754 300 687 152M913 334Q777 280 740 138M913 334Q782 284 744 148M913 334Q775 276 740 131M913 334Q766 283 719 135M913 334Q772 283 729 139M913 334Q771 289 722 148M913 334Q784 279 750 142M913 334Q766 287 716 142M913 334Q769 279 728 131M913 334Q781 276 749 135M913 334Q777 287 733 151M913 334Q779 303 724 178M913 334Q776 296 726 163M913 334Q790 300 744 181M913 334Q780 299 729 171M913 334Q774 301 717 170M913 334Q776 306 716 179M913 334Q781 307 724 186M913 334Q788 295 744 171M913 334Q782 293 737 164M913 334Q787 305 735 187M913 334Q784 301 735 178M913 334Q834 290 823 200M913 334Q819 271 813 158M913 334Q828 291 813 197M913 334Q817 282 802 173M913 334Q825 282 814 180M913 334Q834 276 833 178M913 334Q838 265 849 164M913 334Q830 272 830 169M913 334Q822 267 822 155M913 334Q839 275 843 180M913 334Q835 271 839 171M913 334Q831 279 826 180M913 334Q821 278 811 170M913 334Q839 279 839 188M913 334Q839 269 847 170M913 334Q823 289 806 191M913 334Q826 270 825 162M913 334Q845 273 853 182M913 334Q839 287 833 200M913 334Q825 276 819 170M913 334Q834 282 829 189M913 334Q828 265 832 155M913 334Q832 268 836 163M913 334Q817 276 805 165M913 334Q842 268 853 173M913 334Q833 264 842 158M913 334Q843 283 842 197M913 334Q830 283 821 187M913 334Q819 286 802 182M913 334Q845 278 850 190M913 334Q747 320 660 178M913 334Q751 327 661 193M913 334Q753 316 672 178M913 334Q759 328 672 201M913 334Q762 321 683 193M913 334Q758 316 681 182M913 334Q769 326 690 206M913 334Q789 327 721 223M913 334Q782 334 704 229M913 334Q772 316 702 193M913 334Q772 331 690 216M913 334Q779 328 705 217M913 334Q783 326 712 218M913 334Q775 325 699 209M913 334Q779 317 712 200M913 334Q782 314 720 197M913 334Q786 331 713 228M913 334Q780 323 710 210M913 334Q789 321 725 215M913 334Q776 334 695 224M913 334Q787 317 725 205M913 334Q769 321 694 198M913 334Q777 314 712 192M913 334Q783 320 717 208M913 334Q775 319 705 200M913 334Q801 324 744 228M913 334Q819 314 778 227M913 334Q815 323 766 238M913 334Q810 329 752 244M913 334Q806 322 753 229M913 334Q814 311 774 219M913 334Q804 314 755 214M913 334Q809 311 765 214M913 334Q815 328 762 246M913 334Q811 319 762 228M913 334Q810 325 756 237M913 334Q820 319 777 236M913 334Q806 316 757 220M913 334Q801 318 747 219M913 334Q805 328 745 237M913 334Q815 317 771 228M913 334Q819 324 771 244M913 334Q811 314 767 221M913 334Q763 357 656 250M913 334Q756 360 642 250M913 334Q763 365 648 264M913 334Q785 341 702 243M913 334Q800 343 726 258M913 334Q781 362 680 274M913 334Q795 347 714 260M913 334Q797 361 707 284M913 334Q803 352 723 275M913 334Q780 353 686 259M913 334Q790 340 712 245M913 334Q786 364 687 281M913 334Q790 355 700 268M913 334Q795 352 710 269M913 334Q790 359 697 275M913 334Q796 340 721 250M913 334Q791 349 707 261M913 334Q776 354 678 257M913 334Q803 347 727 266M913 334Q785 351 696 258M913 334Q787 345 702 251M913 334Q780 345 692 245M913 334Q799 350 719 269M913 334Q778 359 677 266M913 334Q792 363 697 284M913 334Q785 357 691 269M913 334Q777 349 684 250M913 334Q795 357 706 276M913 334Q801 357 716 281M913 334Q781 349 690 252M913 334Q779 382 661 303M913 334Q772 370 660 279M913 334Q781 375 670 294M913 334Q774 376 658 291M913 334Q834 333 788 269M913 334Q848 328 814 272M913 334Q825 343 766 278M913 334Q854 342 812 299M913 334Q838 347 784 294M913 334Q848 342 804 294M913 334Q825 338 771 270M913 334Q829 340 774 276M913 334Q847 351 795 309M913 334Q843 345 792 295M913 334Q836 353 776 304M913 334Q847 346 798 301M913 334Q829 345 771 285M913 334Q831 352 769 297M913 334Q834 338 784 277M913 334Q843 334 802 278M913 334Q843 326 807 265M913 334Q827 348 765 288M913 334Q851 347 805 306M913 334Q837 326 798 261M913 334Q832 329 788 260M913 334Q842 350 788 303M913 334Q854 337 817 291M913 334Q833 343 779 284M913 334Q842 353 785 308M913 334Q848 335 809 284M913 334Q839 330 798 268M913 334Q828 333 778 263M913 334Q839 335 795 276M913 334Q838 341 788 284M913 334Q843 338 798 285M913 334Q852 332 818 281M913 334Q833 348 774 292M913 334Q895 316 899 291M913 334Q868 297 871 240M913 334Q862 314 848 262M913 334Q868 307 864 254M913 334Q859 301 853 238M913 334Q894 290 918 248M913 334Q867 302 866 246M913 334Q857 306 846 245M913 334Q895 308 905 278M913 334Q900 297 922 264M913 334Q885 319 881 287M913 334Q873 311 868 264M913 334Q871 321 857 280M913 334Q891 311 897 280M913 334Q880 325 867 293M913 334Q877 303 881 255M913 334Q867 319 852 272M913 334Q898 311 909 286M913 334Q892 301 907 264M913 334Q885 323 878 294M913 334Q863 304 857 246M913 334Q868 325 849 284M913 334Q872 305 871 254M913 334Q866 293 872 231M913 334Q877 313 872 271M913 334Q867 313 857 265M913 334Q890 306 899 270M913 334Q857 316 839 260M913 334Q878 297 887 246M913 334Q891 320 889 294M913 334Q863 310 853 255M913 334Q877 307 878 263M913 334Q890 317 890 288M913 334Q874 326 858 289M913 334Q885 314 885 279M913 334Q887 297 902 254M913 334Q873 294 881 238M913 334Q862 297 862 234M913 334Q863 323 843 277M913 334Q879 292 892 240M913 334Q881 305 885 262M913 334Q881 322 872 289M913 334Q872 290 883 230M913 334Q887 303 896 264M913 334Q882 316 878 280M913 334Q891 296 909 256M913 334Q856 311 841 252M913 334Q901 301 920 272M913 334Q897 293 922 256M913 334Q881 311 880 271M913 334Q873 300 877 248M913 334Q889 288 912 241M913 334Q877 318 869 280M913 334Q886 309 891 272M913 334Q872 316 862 273M913 334Q900 306 916 280M913 334Q877 288 894 232M913 334Q882 295 895 247M913 334Q883 287 904 235M913 334Q860 320 840 269M913 334Q887 292 905 246M913 334Q896 304 910 272M913 334Q896 299 915 264M913 334Q883 300 892 256M913 334Q801 374 702 309M913 334Q796 383 687 318M913 334Q793 377 688 307M913 334Q795 372 695 300M913 334Q812 380 715 327M913 334Q822 380 731 335M913 334Q820 388 722 346M913 334Q808 387 704 335M913 334Q817 375 727 322M913 334Q813 391 708 346M913 334Q832 376 751 336M913 334Q861 371 801 351M913 334Q865 367 810 347M913 334Q860 362 807 337M913 334Q857 366 798 341M913 334Q791 412 657 361M913 334Q792 405 663 350M913 334Q787 411 651 356M913 334Q796 413 663 366M913 334Q798 398 678 344M913 334Q804 402 685 356M913 334Q861 399 778 397M913 334Q855 396 771 386M913 334Q839 403 740 386M913 334Q845 406 747 395M913 334Q842 391 755 369M913 334Q838 395 745 371M913 334Q845 395 756 377M913 334Q854 389 775 375M913 334Q858 404 770 403M913 334Q859 391 781 382M913 334Q848 410 748 404M913 334Q848 389 766 370M913 334Q849 404 755 395M913 334Q850 393 765 378M913 334Q835 400 736 377M913 334Q835 405 732 384M913 334Q840 398 746 377M913 334Q844 400 751 385M913 334Q837 408 733 393M913 334Q854 408 759 405M913 334Q850 397 762 384M913 334Q861 395 782 390M913 334Q842 410 739 400M913 334Q853 401 764 394M913 334Q881 373 831 371M913 334Q882 385 823 390M913 334Q890 384 837 396M913 334Q900 370 864 381M913 334Q891 369 850 372M913 334Q890 366 852 367M913 334Q878 385 817 387M913 334Q895 372 854 381M913 334Q901 384 854 404M913 334Q881 388 820 396M913 334Q890 379 840 388M913 334Q886 382 832 388M913 334Q886 372 840 373M913 334Q902 374 864 390M913 334Q880 370 833 366M913 334Q894 383 844 397M913 334Q892 390 835 407M913 334Q891 375 846 382M913 334Q882 379 828 382M913 334Q885 376 835 380M913 334Q877 380 819 378M913 334Q895 377 850 388M913 334Q886 390 826 403M913 334Q899 380 854 397M913 334Q885 367 843 364M913 334Q897 388 844 408M913 334Q896 367 860 373M913 334Q903 379 861 398M913 334Q885 387 826 397M913 334Q877 374 824 370M913 334Q938 369 925 410M913 334Q930 365 915 398M913 334Q925 378 897 414M913 334Q925 373 901 406M913 334Q932 362 921 394M913 334Q931 378 907 418M913 334Q921 366 900 392M913 334Q926 363 911 390M913 334Q936 364 926 401M913 334Q919 371 893 398M913 334Q929 371 910 406M913 334Q920 376 892 407M913 334Q936 374 918 416M913 334Q925 369 905 399M913 334Q820 412 703 385M913 334Q818 423 690 400M913 334Q823 420 701 400M913 334Q839 417 729 408M913 334Q830 428 706 418M913 334Q859 416 762 421M913 334Q857 427 749 439M913 334Q866 413 775 422M913 334Q865 418 770 429M913 334Q870 424 772 444M913 334Q874 420 783 440M913 334Q864 423 764 438M913 334Q869 421 774 439M913 334Q872 413 785 427M913 334Q863 427 759 443M913 334Q854 425 746 432M913 334Q875 415 788 434M913 334Q859 425 755 437M913 334Q861 420 761 430M913 334Q855 420 751 425M913 334Q895 412 822 444M913 334Q860 441 744 463M913 334Q854 443 732 462M913 334Q851 437 731 449M913 334Q882 437 782 473M913 334Q876 438 770 471M913 334Q883 427 792 459M913 334Q889 443 789 489M913 334Q886 432 792 469M913 334Q903 422 826 467M913 334Q907 424 833 473M913 334Q899 418 824 458M913 334Q908 419 837 466M913 334Q909 433 828 489M913 334Q902 429 820 476M913 334Q902 436 815 489M913 334Q914 430 840 488M913 334Q921 425 854 486M913 334Q929 426 865 494M913 334Q923 431 851 497M913 334Q934 402 893 460M913 334Q934 416 881 482M913 334Q947 401 915 468M913 334Q939 393 909 449M913 334Q929 393 892 442M913 334Q934 392 901 443M913 334Q926 397 884 446M913 334Q943 412 899 483M913 334Q943 402 908 467M913 334Q935 407 891 468M913 334Q930 404 885 459M913 334Q926 408 875 463M913 334Q939 399 903 458M913 334Q944 415 898 489M913 334Q947 411 906 485M913 334Q939 417 889 488M913 334Q944 396 914 457M913 334Q939 409 895 476M913 334Q929 413 876 474M913 334Q939 404 899 467M913 334Q943 407 903 475M913 334Q934 412 885 476M913 334Q925 403 878 453M913 334Q931 398 891 451M913 334Q935 396 900 451M913 334Q930 408 881 466M913 334Q948 406 912 478M913 334Q988 248 1103 256M913 334Q983 245 1097 247M913 334Q986 253 1095 262M913 334Q981 250 1089 253M913 334Q1005 264 1116 296M913 334Q998 260 1108 284M913 334Q943 278 1007 268M913 334Q929 287 977 272M913 334Q929 282 981 263M913 334Q943 302 987 306M913 334Q937 302 978 303M913 334Q947 298 996 304M913 334Q928 277 984 255M913 334Q942 284 1000 278M913 334Q937 298 980 296M913 334Q938 281 995 269M913 334Q938 275 1001 260M913 334Q932 291 979 280M913 334Q928 297 967 287M913 334Q933 279 990 262M913 334Q949 288 1008 289M913 334Q933 275 993 255M913 334Q947 282 1010 278M913 334Q925 292 966 276M913 334Q937 288 988 279M913 334Q949 294 1004 298M913 334Q932 285 984 272M913 334Q936 293 984 286M913 334Q941 296 989 297M913 334Q932 301 971 296M913 334Q924 286 969 266M913 334Q942 290 996 288M913 334Q931 295 975 286M913 334Q925 281 976 259M913 334Q980 286 1060 311M913 334Q962 283 1033 292M913 334Q971 290 1041 310M913 334Q961 296 1020 311M913 334Q979 291 1054 319M913 334Q971 298 1035 323M913 334Q971 294 1038 317M913 334Q976 296 1045 323M913 334Q958 292 1019 302M913 334Q966 298 1026 319M913 334Q967 291 1034 308M913 334Q959 281 1030 287M913 334Q963 278 1040 284M913 334Q974 277 1057 292M913 334Q978 281 1061 301M913 334Q961 288 1027 299M913 334Q967 286 1038 300M913 334Q967 280 1042 291M913 334Q957 286 1022 293M913 334Q972 284 1047 301M913 334Q976 287 1053 309M913 334Q969 276 1049 286M913 334Q993 300 1068 342M913 334Q1002 290 1092 335M913 334Q996 290 1082 331M913 334Q999 294 1082 339M913 334Q1004 298 1087 350M913 334Q1006 293 1094 343M913 334Q998 301 1075 349M913 334Q992 295 1071 334M913 334Q997 323 1056 384M913 334Q1001 314 1071 373M913 334Q1002 324 1064 389M913 334Q1004 319 1071 383M913 334Q994 318 1056 374M913 334Q996 314 1063 368M913 334Q964 334 995 375M913 334Q978 335 1018 388M913 334Q960 336 987 375M913 334Q970 342 999 392M913 334Q956 325 989 354M913 334Q964 329 999 367M913 334Q975 339 1009 392M913 334Q965 342 990 388M913 334Q964 338 992 382M913 334Q959 326 995 358M913 334Q955 331 983 362M913 334Q960 340 984 381M913 334Q968 326 1008 365M913 334Q970 318 1017 354M913 334Q965 323 1005 358M913 334Q960 331 991 367M913 334Q974 329 1016 374M913 334Q969 337 1001 383M913 334Q956 336 981 371M913 334Q974 334 1011 382M913 334Q973 324 1018 366M913 334Q968 331 1004 373M913 334Q975 320 1023 361M913 334Q959 321 998 350M913 334Q964 318 1008 350M913 334Q978 324 1026 371M913 334Q980 330 1024 380M913 334Q934 346 938 370M913 334Q954 350 966 391M913 334Q988 346 1024 413M913 334Q984 341 1022 403M913 334Q994 340 1038 409M913 334Q993 345 1032 416M913 334Q991 336 1036 399M913 334Q986 336 1028 396M913 334Q1004 343 1053 421M913 334Q1004 349 1048 432M913 334Q1006 336 1060 412M913 334Q994 359 1024 439M913 334Q991 364 1014 445M913 334Q970 369 977 436M913 334Q969 375 971 444M913 334Q964 373 963 438M913 334Q968 364 977 427M913 334Q974 371 982 442M913 334Q974 366 985 433M913 334Q963 368 966 429M913 334Q977 377 981 454M913 334Q981 380 987 462M913 334Q985 375 995 457M913 334Q980 373 990 450M913 334Q865 193 949 69M913 334Q851 182 936 42M913 334Q861 189 946 61M913 334Q854 178 944 36M913 334Q870 184 964 60M913 334Q868 189 958 67M913 334Q856 186 940 51M913 334Q854 192 934 60M913 334Q859 175 954 36M913 334Q864 176 962 42M913 334Q859 194 940 67M913 334Q865 182 959 52M913 334Q857 180 948 43M913 334Q868 179 966 50M913 334Q862 184 952 54M913 334Q851 187 932 50M913 334Q877 198 965 88M913 334Q900 217 987 137M913 334Q903 227 984 155M913 334Q909 226 993 158M913 334Q914 216 1010 146M913 334Q900 211 992 127M913 334Q904 220 990 144M913 334Q899 225 978 147M913 334Q917 219 1012 153M913 334Q909 213 1004 137M913 334Q909 219 999 146M913 334Q901 207 996 120M913 334Q905 209 1001 127M913 334Q895 215 979 130M913 334Q895 221 976 138M913 334Q914 224 1003 158M913 334Q897 210 986 123M913 334Q917 214 1017 145M913 334Q915 209 1017 136M913 334Q906 205 1005 122M913 334Q905 216 995 138M913 334Q911 206 1013 128M913 334Q931 206 1045 144M913 334Q924 196 1041 121M913 334Q927 190 1051 115M913 334Q923 210 1029 144M913 334Q918 193 1034 112M913 334Q919 208 1023 137M913 334Q922 188 1045 108M913 334Q932 201 1051 136M913 334Q927 204 1041 137M913 334Q915 203 1021 126M913 334Q923 201 1035 129M913 334Q914 192 1029 108M913 334Q928 198 1046 129M913 334Q928 209 1037 147M913 334Q931 195 1053 126M913 334Q913 198 1023 116M913 334Q922 207 1029 138M913 334Q917 189 1037 105M913 334Q918 198 1030 121M913 334Q901 251 961 191M913 334Q891 245 950 174M913 334Q882 255 928 183M913 334Q890 260 937 198M913 334Q900 245 965 182M913 334Q879 250 926 173M913 334Q887 257 933 190M913 334Q882 246 935 168M913 334Q878 256 921 181M913 334Q897 247 958 182M913 334Q879 260 918 189M913 334Q891 269 931 212M913 334Q886 268 924 206M913 334Q892 240 955 166M913 334Q895 264 941 207M913 334Q900 260 951 206M913 334Q910 247 978 193M913 334Q907 243 977 184M913 334Q897 239 965 170M913 334Q911 252 975 201M913 334Q904 259 960 207M913 334Q882 265 919 198M913 334Q897 268 941 216M913 334Q886 242 945 165M913 334Q896 253 951 191M913 334Q907 262 961 214M913 334Q900 256 956 199M913 334Q886 252 936 182M913 334Q910 257 970 209M913 334Q895 258 945 198M913 334Q905 253 965 198M913 334Q902 266 951 217M913 334Q891 250 946 183M913 334Q886 262 927 197M913 334Q903 240 972 176M913 334Q891 265 934 207M913 334Q888 247 942 175M913 334Q905 249 969 191M913 334Q891 256 942 191M913 334Q936 246 1021 212M913 334Q953 253 1043 236M913 334Q948 241 1044 213M913 334Q934 240 1023 202M913 334Q954 237 1057 212M913 334Q944 248 1031 221M913 334Q935 235 1028 193M913 334Q948 235 1049 205M913 334Q956 248 1050 231M913 334Q937 231 1035 188M913 334Q941 229 1043 188M913 334Q940 251 1023 223M913 334Q945 254 1028 232M913 334Q950 232 1055 201M913 334Q939 239 1031 203M913 334Q952 248 1045 228M913 334Q944 243 1037 213M913 334Q948 251 1035 230M913 334Q939 233 1036 194M913 334Q949 246 1041 221M913 334Q946 229 1050 192M913 334Q943 237 1039 203M913 334Q952 244 1049 221M913 334Q944 233 1043 197M913 334Q956 243 1055 222M913 334Q949 255 1035 236M913 334Q961 220 1082 191M913 334Q969 221 1095 198M913 334Q965 217 1091 189M913 334Q968 226 1088 205M913 334Q963 226 1080 200M913 334Q965 223 1085 197" fill="none" stroke="#c4c4c4" stroke-width="0.75"/>
<g fill="#f0a3ab" stroke="#a87277" stroke-width="0.7"><circle cx="853.5" cy="35.1" r="8.2"/><circle cx="842.3" cy="35.7" r="8.2"/><circle cx="854.7" cy="50.3" r="8.2"/><circle cx="850.2" cy="42.6" r="8.2"/><circle cx="843.5" cy="50.9" r="8.2"/><circle cx="837.2" cy="43.5" r="8.2"/><circle cx="859.8" cy="42.5" r="8.2"/></g>
<g fill="#e8891c" stroke="#a25f13" stroke-width="0.7"><circle cx="816.5" cy="60.2" r="8.2"/><circle cx="813.7" cy="51.8" r="8.2"/><circle cx="821.5" cy="48.8" r="8.2"/><circle cx="824.3" cy="57.2" r="8.2"/></g>
<g fill="#3e78aa" stroke="#2b5476" stroke-width="0.7"><circle cx="888.1" cy="144.1" r="8.2"/><circle cx="901.1" cy="130.1" r="8.2"/><circle cx="858.4" cy="91.4" r="8.2"/><circle cx="868.9" cy="125.4" r="8.2"/><circle cx="851.1" cy="145.6" r="8.2"/><circle cx="845.7" cy="101.1" r="8.2"/><circle cx="898.3" cy="109.7" r="8.2"/><circle cx="854.2" cy="132.6" r="8.2"/><circle cx="870.1" cy="142.0" r="8.2"/><circle cx="872.8" cy="116.2" r="8.2"/><circle cx="863.8" cy="83.4" r="8.2"/><circle cx="855.5" cy="116.1" r="8.2"/><circle cx="872.8" cy="100.7" r="8.2"/><circle cx="837.4" cy="118.5" r="8.2"/><circle cx="860.1" cy="148.9" r="8.2"/><circle cx="851.4" cy="126.7" r="8.2"/><circle cx="904.4" cy="121.1" r="8.2"/><circle cx="836.9" cy="132.7" r="8.2"/><circle cx="840.5" cy="125.9" r="8.2"/><circle cx="884.0" cy="134.1" r="8.2"/><circle cx="880.0" cy="109.2" r="8.2"/><circle cx="876.4" cy="77.1" r="8.2"/><circle cx="869.1" cy="110.3" r="8.2"/><circle cx="879.3" cy="148.1" r="8.2"/><circle cx="878.4" cy="141.1" r="8.2"/><circle cx="849.8" cy="92.9" r="8.2"/><circle cx="874.1" cy="135.4" r="8.2"/><circle cx="844.8" cy="117.2" r="8.2"/><circle cx="896.9" cy="125.0" r="8.2"/><circle cx="864.3" cy="116.5" r="8.2"/><circle cx="848.4" cy="81.9" r="8.2"/><circle cx="843.1" cy="140.1" r="8.2"/><circle cx="856.1" cy="101.7" r="8.2"/><circle cx="888.7" cy="107.9" r="8.2"/><circle cx="868.3" cy="93.3" r="8.2"/><circle cx="888.5" cy="92.6" r="8.2"/><circle cx="892.9" cy="99.6" r="8.2"/><circle cx="864.2" cy="133.7" r="8.2"/><circle cx="878.5" cy="92.2" r="8.2"/><circle cx="892.2" cy="117.2" r="8.2"/><circle cx="845.4" cy="134.3" r="8.2"/><circle cx="831.2" cy="114.5" r="8.2"/><circle cx="869.8" cy="149.8" r="8.2"/><circle cx="860.0" cy="109.5" r="8.2"/><circle cx="860.8" cy="125.1" r="8.2"/><circle cx="853.6" cy="85.5" r="8.2"/><circle cx="884.3" cy="116.4" r="8.2"/><circle cx="895.5" cy="137.9" r="8.2"/><circle cx="866.7" cy="76.2" r="8.2"/><circle cx="841.0" cy="88.1" r="8.2"/><circle cx="849.6" cy="109.8" r="8.2"/><circle cx="832.1" cy="104.9" r="8.2"/><circle cx="887.2" cy="124.8" r="8.2"/><circle cx="863.8" cy="102.4" r="8.2"/><circle cx="903.6" cy="102.0" r="8.2"/><circle cx="884.2" cy="100.0" r="8.2"/><circle cx="835.4" cy="95.9" r="8.2"/><circle cx="885.4" cy="80.4" r="8.2"/><circle cx="857.2" cy="77.9" r="8.2"/><circle cx="840.9" cy="110.4" r="8.2"/><circle cx="832.9" cy="124.0" r="8.2"/><circle cx="893.4" cy="85.9" r="8.2"/><circle cx="905.3" cy="111.5" r="8.2"/><circle cx="879.9" cy="127.2" r="8.2"/><circle cx="872.8" cy="83.9" r="8.2"/><circle cx="899.6" cy="93.3" r="8.2"/></g>
<g fill="#5fbfcc" stroke="#42858e" stroke-width="0.7"><circle cx="769.2" cy="90.4" r="8.2"/><circle cx="761.4" cy="104.7" r="8.2"/><circle cx="771.3" cy="117.6" r="8.2"/><circle cx="783.2" cy="98.7" r="8.2"/><circle cx="780.8" cy="84.3" r="8.2"/><circle cx="788.1" cy="90.7" r="8.2"/><circle cx="768.3" cy="105.9" r="8.2"/><circle cx="751.1" cy="87.6" r="8.2"/><circle cx="760.6" cy="116.7" r="8.2"/><circle cx="773.3" cy="98.0" r="8.2"/><circle cx="765.6" cy="97.6" r="8.2"/><circle cx="759.9" cy="82.5" r="8.2"/><circle cx="746.4" cy="104.2" r="8.2"/><circle cx="778.5" cy="105.9" r="8.2"/><circle cx="781.3" cy="114.4" r="8.2"/><circle cx="775.2" cy="113.1" r="8.2"/><circle cx="770.6" cy="81.3" r="8.2"/><circle cx="751.6" cy="111.8" r="8.2"/><circle cx="759.0" cy="88.7" r="8.2"/><circle cx="790.8" cy="99.2" r="8.2"/><circle cx="755.9" cy="99.2" r="8.2"/><circle cx="788.4" cy="107.8" r="8.2"/><circle cx="746.3" cy="95.4" r="8.2"/></g>
<g fill="#acd8e0" stroke="#78979c" stroke-width="0.7"><circle cx="784.7" cy="64.5" r="8.2"/></g>
<g fill="#e8d0e4" stroke="#a2919f" stroke-width="0.7"><circle cx="730.0" cy="106.7" r="8.2"/><circle cx="736.7" cy="111.8" r="8.2"/></g>
<g fill="#dcb0d4" stroke="#9a7b94" stroke-width="0.7"><circle cx="663.2" cy="139.2" r="8.2"/><circle cx="677.3" cy="137.1" r="8.2"/><circle cx="669.4" cy="131.1" r="8.2"/><circle cx="688.6" cy="131.8" r="8.2"/><circle cx="677.9" cy="161.8" r="8.2"/><circle cx="662.8" cy="149.6" r="8.2"/><circle cx="679.1" cy="128.2" r="8.2"/><circle cx="687.6" cy="158.9" r="8.2"/><circle cx="693.8" cy="150.8" r="8.2"/><circle cx="684.8" cy="137.2" r="8.2"/><circle cx="670.6" cy="146.2" r="8.2"/><circle cx="689.3" cy="143.9" r="8.2"/><circle cx="668.4" cy="158.2" r="8.2"/><circle cx="694.2" cy="140.4" r="8.2"/><circle cx="675.9" cy="153.1" r="8.2"/><circle cx="680.3" cy="145.9" r="8.2"/><circle cx="687.0" cy="151.7" r="8.2"/></g>
<g fill="#6ab82e" stroke="#4a8020" stroke-width="0.7"><circle cx="740.0" cy="138.4" r="8.2"/><circle cx="744.4" cy="148.5" r="8.2"/><circle cx="739.7" cy="130.9" r="8.2"/><circle cx="718.7" cy="135.2" r="8.2"/><circle cx="729.1" cy="139.0" r="8.2"/><circle cx="722.2" cy="148.3" r="8.2"/><circle cx="750.5" cy="142.5" r="8.2"/><circle cx="716.4" cy="142.1" r="8.2"/><circle cx="727.8" cy="130.8" r="8.2"/><circle cx="748.6" cy="135.5" r="8.2"/><circle cx="733.2" cy="150.8" r="8.2"/></g>
<g fill="#6ab82e" stroke="#4a8020" stroke-width="0.7"><circle cx="724.1" cy="178.2" r="8.2"/><circle cx="725.8" cy="163.4" r="8.2"/><circle cx="743.6" cy="180.5" r="8.2"/><circle cx="729.2" cy="171.2" r="8.2"/><circle cx="717.3" cy="169.6" r="8.2"/><circle cx="716.5" cy="178.9" r="8.2"/><circle cx="723.8" cy="186.0" r="8.2"/><circle cx="744.4" cy="171.2" r="8.2"/><circle cx="737.1" cy="164.1" r="8.2"/><circle cx="735.1" cy="186.7" r="8.2"/><circle cx="734.5" cy="178.0" r="8.2"/></g>
<g fill="#8b1a1f" stroke="#611215" stroke-width="0.7"><circle cx="822.6" cy="200.4" r="8.2"/><circle cx="812.7" cy="158.3" r="8.2"/><circle cx="813.1" cy="197.0" r="8.2"/><circle cx="801.7" cy="173.2" r="8.2"/><circle cx="814.1" cy="180.5" r="8.2"/><circle cx="833.3" cy="178.3" r="8.2"/><circle cx="849.2" cy="164.3" r="8.2"/><circle cx="830.4" cy="169.3" r="8.2"/><circle cx="822.1" cy="154.7" r="8.2"/><circle cx="842.6" cy="179.8" r="8.2"/><circle cx="839.4" cy="170.6" r="8.2"/><circle cx="825.8" cy="180.4" r="8.2"/><circle cx="810.7" cy="170.2" r="8.2"/><circle cx="839.4" cy="187.9" r="8.2"/><circle cx="847.3" cy="170.2" r="8.2"/><circle cx="805.8" cy="190.7" r="8.2"/><circle cx="824.6" cy="162.4" r="8.2"/><circle cx="853.3" cy="181.8" r="8.2"/><circle cx="832.9" cy="200.3" r="8.2"/><circle cx="819.3" cy="170.2" r="8.2"/><circle cx="828.6" cy="188.5" r="8.2"/><circle cx="832.4" cy="154.6" r="8.2"/><circle cx="835.9" cy="163.5" r="8.2"/><circle cx="805.5" cy="164.8" r="8.2"/><circle cx="853.2" cy="172.7" r="8.2"/><circle cx="841.9" cy="158.0" r="8.2"/><circle cx="842.3" cy="196.7" r="8.2"/><circle cx="821.2" cy="186.5" r="8.2"/><circle cx="801.8" cy="182.3" r="8.2"/><circle cx="849.5" cy="190.2" r="8.2"/></g>
<g fill="#7b1a7d" stroke="#561257" stroke-width="0.7"><circle cx="659.5" cy="178.0" r="8.2"/><circle cx="661.0" cy="193.0" r="8.2"/><circle cx="672.0" cy="177.5" r="8.2"/></g>
<g fill="#f8f2ec" stroke="#ada9a5" stroke-width="0.7"><circle cx="672.2" cy="201.0" r="8.2"/><circle cx="682.8" cy="192.8" r="8.2"/><circle cx="680.6" cy="181.9" r="8.2"/></g>
<g fill="#a8cc4a" stroke="#758e33" stroke-width="0.7"><circle cx="690.0" cy="206.3" r="8.2"/><circle cx="720.9" cy="223.3" r="8.2"/><circle cx="703.5" cy="228.7" r="8.2"/><circle cx="702.5" cy="192.7" r="8.2"/><circle cx="690.3" cy="215.9" r="8.2"/><circle cx="704.9" cy="217.4" r="8.2"/><circle cx="712.2" cy="218.2" r="8.2"/><circle cx="699.5" cy="208.6" r="8.2"/><circle cx="712.5" cy="200.0" r="8.2"/><circle cx="720.2" cy="197.0" r="8.2"/><circle cx="712.9" cy="228.4" r="8.2"/><circle cx="709.7" cy="209.8" r="8.2"/><circle cx="725.4" cy="214.8" r="8.2"/><circle cx="695.2" cy="224.1" r="8.2"/><circle cx="725.1" cy="205.2" r="8.2"/><circle cx="694.5" cy="197.8" r="8.2"/><circle cx="711.9" cy="192.4" r="8.2"/><circle cx="717.4" cy="207.6" r="8.2"/><circle cx="705.2" cy="200.2" r="8.2"/></g>
<g fill="#7cbde8" stroke="#5684a2" stroke-width="0.7"><circle cx="743.5" cy="228.1" r="8.2"/><circle cx="778.4" cy="226.9" r="8.2"/><circle cx="766.3" cy="238.3" r="8.2"/><circle cx="752.0" cy="244.2" r="8.2"/><circle cx="752.9" cy="228.8" r="8.2"/><circle cx="774.0" cy="218.5" r="8.2"/><circle cx="755.5" cy="214.1" r="8.2"/><circle cx="765.4" cy="213.7" r="8.2"/><circle cx="761.7" cy="246.5" r="8.2"/><circle cx="762.4" cy="228.2" r="8.2"/><circle cx="756.2" cy="237.4" r="8.2"/><circle cx="777.4" cy="236.2" r="8.2"/><circle cx="757.2" cy="220.0" r="8.2"/><circle cx="747.3" cy="219.4" r="8.2"/><circle cx="745.3" cy="237.3" r="8.2"/><circle cx="771.2" cy="228.5" r="8.2"/><circle cx="771.1" cy="243.5" r="8.2"/><circle cx="766.8" cy="221.4" r="8.2"/></g>
<g fill="#000000" stroke="#222" stroke-width="0.7"><circle cx="655.5" cy="250.5" r="8.2"/><circle cx="642.0" cy="250.5" r="8.2"/><circle cx="648.5" cy="263.5" r="8.2"/></g>
<g fill="#2050a8" stroke="#163875" stroke-width="0.7"><circle cx="702.3" cy="243.2" r="8.2"/><circle cx="725.7" cy="257.8" r="8.2"/><circle cx="680.4" cy="274.2" r="8.2"/><circle cx="714.0" cy="259.8" r="8.2"/><circle cx="706.9" cy="284.4" r="8.2"/><circle cx="723.3" cy="274.6" r="8.2"/><circle cx="685.9" cy="259.0" r="8.2"/><circle cx="712.3" cy="245.1" r="8.2"/><circle cx="687.2" cy="280.7" r="8.2"/><circle cx="700.1" cy="268.4" r="8.2"/><circle cx="710.3" cy="269.0" r="8.2"/><circle cx="696.6" cy="275.4" r="8.2"/><circle cx="720.6" cy="250.2" r="8.2"/><circle cx="707.0" cy="260.9" r="8.2"/><circle cx="678.5" cy="257.4" r="8.2"/><circle cx="726.6" cy="266.4" r="8.2"/><circle cx="696.1" cy="258.4" r="8.2"/><circle cx="702.3" cy="251.1" r="8.2"/><circle cx="692.2" cy="244.9" r="8.2"/><circle cx="718.7" cy="269.2" r="8.2"/><circle cx="677.3" cy="266.0" r="8.2"/><circle cx="696.6" cy="284.3" r="8.2"/><circle cx="690.7" cy="268.8" r="8.2"/><circle cx="683.7" cy="249.9" r="8.2"/><circle cx="706.0" cy="275.8" r="8.2"/><circle cx="716.4" cy="281.0" r="8.2"/><circle cx="690.1" cy="251.9" r="8.2"/></g>
<g fill="#e06a50" stroke="#9c4a38" stroke-width="0.7"><circle cx="661.0" cy="302.8" r="8.2"/><circle cx="660.0" cy="279.3" r="8.2"/><circle cx="669.6" cy="294.2" r="8.2"/><circle cx="657.8" cy="291.0" r="8.2"/></g>
<g fill="#e8ca9c" stroke="#a28d6d" stroke-width="0.7"><circle cx="787.7" cy="269.2" r="8.2"/><circle cx="814.2" cy="272.3" r="8.2"/><circle cx="766.1" cy="278.3" r="8.2"/><circle cx="812.4" cy="299.2" r="8.2"/><circle cx="783.9" cy="294.4" r="8.2"/><circle cx="804.0" cy="294.3" r="8.2"/><circle cx="770.6" cy="269.8" r="8.2"/><circle cx="774.0" cy="275.6" r="8.2"/><circle cx="795.0" cy="308.6" r="8.2"/><circle cx="792.4" cy="294.5" r="8.2"/><circle cx="775.6" cy="303.8" r="8.2"/><circle cx="798.3" cy="301.0" r="8.2"/><circle cx="770.6" cy="284.7" r="8.2"/><circle cx="768.8" cy="296.7" r="8.2"/><circle cx="783.8" cy="276.7" r="8.2"/><circle cx="802.2" cy="278.1" r="8.2"/><circle cx="807.4" cy="265.2" r="8.2"/><circle cx="765.4" cy="287.8" r="8.2"/><circle cx="804.7" cy="305.5" r="8.2"/><circle cx="798.2" cy="261.0" r="8.2"/><circle cx="788.0" cy="260.4" r="8.2"/><circle cx="787.9" cy="302.9" r="8.2"/><circle cx="816.9" cy="290.7" r="8.2"/><circle cx="779.1" cy="283.9" r="8.2"/><circle cx="784.8" cy="308.0" r="8.2"/><circle cx="809.3" cy="284.1" r="8.2"/><circle cx="797.7" cy="268.0" r="8.2"/><circle cx="778.3" cy="263.5" r="8.2"/><circle cx="794.8" cy="276.4" r="8.2"/><circle cx="788.4" cy="284.5" r="8.2"/><circle cx="798.0" cy="284.7" r="8.2"/><circle cx="817.6" cy="281.2" r="8.2"/><circle cx="774.0" cy="292.0" r="8.2"/></g>
<g fill="#e8161b" stroke="#a20f12" stroke-width="0.7"><circle cx="899.5" cy="290.9" r="8.2"/><circle cx="871.1" cy="239.7" r="8.2"/><circle cx="848.5" cy="261.8" r="8.2"/><circle cx="863.5" cy="254.1" r="8.2"/><circle cx="852.7" cy="238.3" r="8.2"/><circle cx="918.0" cy="247.8" r="8.2"/><circle cx="866.4" cy="246.0" r="8.2"/><circle cx="845.6" cy="244.7" r="8.2"/><circle cx="904.6" cy="278.4" r="8.2"/><circle cx="922.4" cy="264.1" r="8.2"/><circle cx="880.6" cy="286.7" r="8.2"/><circle cx="868.2" cy="264.3" r="8.2"/><circle cx="857.1" cy="279.7" r="8.2"/><circle cx="897.1" cy="280.4" r="8.2"/><circle cx="867.5" cy="292.7" r="8.2"/><circle cx="881.1" cy="254.8" r="8.2"/><circle cx="851.6" cy="272.4" r="8.2"/><circle cx="908.5" cy="286.2" r="8.2"/><circle cx="906.5" cy="263.9" r="8.2"/><circle cx="878.2" cy="294.2" r="8.2"/><circle cx="857.2" cy="245.5" r="8.2"/><circle cx="849.3" cy="283.6" r="8.2"/><circle cx="871.3" cy="254.2" r="8.2"/><circle cx="872.1" cy="230.9" r="8.2"/><circle cx="872.4" cy="270.9" r="8.2"/><circle cx="857.4" cy="264.5" r="8.2"/><circle cx="899.3" cy="270.2" r="8.2"/><circle cx="838.8" cy="260.4" r="8.2"/><circle cx="886.9" cy="246.5" r="8.2"/><circle cx="889.1" cy="293.6" r="8.2"/><circle cx="853.0" cy="255.4" r="8.2"/><circle cx="878.1" cy="262.5" r="8.2"/><circle cx="890.5" cy="287.8" r="8.2"/><circle cx="857.6" cy="289.1" r="8.2"/><circle cx="885.4" cy="279.0" r="8.2"/><circle cx="901.6" cy="253.6" r="8.2"/><circle cx="881.4" cy="237.6" r="8.2"/><circle cx="861.7" cy="233.6" r="8.2"/><circle cx="843.2" cy="276.7" r="8.2"/><circle cx="892.2" cy="240.0" r="8.2"/><circle cx="885.0" cy="262.2" r="8.2"/><circle cx="872.5" cy="289.3" r="8.2"/><circle cx="883.0" cy="230.3" r="8.2"/><circle cx="895.8" cy="263.8" r="8.2"/><circle cx="877.9" cy="279.7" r="8.2"/><circle cx="908.5" cy="255.6" r="8.2"/><circle cx="840.8" cy="252.2" r="8.2"/><circle cx="920.4" cy="272.3" r="8.2"/><circle cx="921.6" cy="255.7" r="8.2"/><circle cx="880.3" cy="270.8" r="8.2"/><circle cx="876.9" cy="247.9" r="8.2"/><circle cx="911.9" cy="240.9" r="8.2"/><circle cx="868.6" cy="280.2" r="8.2"/><circle cx="891.4" cy="272.1" r="8.2"/><circle cx="861.6" cy="272.8" r="8.2"/><circle cx="915.6" cy="279.8" r="8.2"/><circle cx="893.7" cy="231.8" r="8.2"/><circle cx="895.4" cy="246.8" r="8.2"/><circle cx="903.6" cy="235.4" r="8.2"/><circle cx="839.6" cy="268.8" r="8.2"/><circle cx="904.8" cy="246.2" r="8.2"/><circle cx="910.0" cy="271.8" r="8.2"/><circle cx="915.1" cy="264.1" r="8.2"/><circle cx="892.3" cy="256.0" r="8.2"/></g>
<g fill="#8c7e70" stroke="#62584e" stroke-width="0.7"><circle cx="702.0" cy="309.0" r="8.2"/><circle cx="687.0" cy="318.0" r="8.2"/><circle cx="688.0" cy="307.0" r="8.2"/><circle cx="695.0" cy="300.0" r="8.2"/></g>
<g fill="#7ab5e2" stroke="#557e9e" stroke-width="0.7"><circle cx="714.6" cy="327.4" r="8.2"/><circle cx="730.6" cy="335.0" r="8.2"/><circle cx="722.0" cy="345.6" r="8.2"/><circle cx="703.9" cy="335.0" r="8.2"/><circle cx="727.4" cy="322.0" r="8.2"/><circle cx="708.2" cy="345.6" r="8.2"/></g>
<g fill="#a8dce4" stroke="#759a9f" stroke-width="0.7"><circle cx="750.6" cy="336.0" r="8.2"/></g>
<g fill="#8b2424" stroke="#611919" stroke-width="0.7"><circle cx="801.0" cy="351.0" r="8.2"/><circle cx="810.1" cy="347.4" r="8.2"/><circle cx="807.0" cy="337.0" r="8.2"/><circle cx="797.9" cy="340.6" r="8.2"/></g>
<g fill="#1e2d60" stroke="#151f43" stroke-width="0.7"><circle cx="656.8" cy="360.6" r="8.2"/><circle cx="663.2" cy="349.9" r="8.2"/><circle cx="651.4" cy="356.3" r="8.2"/><circle cx="663.2" cy="366.0" r="8.2"/></g>
<g fill="#2aaeb8" stroke="#1d7980" stroke-width="0.7"><circle cx="678.0" cy="344.0" r="8.2"/><circle cx="685.0" cy="356.0" r="8.2"/></g>
<g fill="#c86a8c" stroke="#8c4a62" stroke-width="0.7"><circle cx="778.0" cy="397.2" r="8.2"/><circle cx="770.9" cy="385.9" r="8.2"/><circle cx="740.4" cy="385.6" r="8.2"/><circle cx="747.4" cy="394.9" r="8.2"/><circle cx="755.2" cy="368.9" r="8.2"/><circle cx="744.6" cy="371.3" r="8.2"/><circle cx="755.7" cy="376.7" r="8.2"/><circle cx="775.5" cy="374.5" r="8.2"/><circle cx="769.9" cy="402.8" r="8.2"/><circle cx="781.1" cy="381.5" r="8.2"/><circle cx="748.3" cy="404.1" r="8.2"/><circle cx="766.2" cy="370.0" r="8.2"/><circle cx="754.6" cy="394.6" r="8.2"/><circle cx="765.3" cy="378.0" r="8.2"/><circle cx="736.5" cy="376.9" r="8.2"/><circle cx="732.5" cy="384.5" r="8.2"/><circle cx="745.7" cy="377.4" r="8.2"/><circle cx="750.8" cy="384.8" r="8.2"/><circle cx="733.4" cy="392.6" r="8.2"/><circle cx="759.3" cy="405.2" r="8.2"/><circle cx="762.1" cy="384.0" r="8.2"/><circle cx="782.0" cy="389.6" r="8.2"/><circle cx="739.0" cy="399.6" r="8.2"/><circle cx="764.3" cy="394.2" r="8.2"/></g>
<g fill="#1e6834" stroke="#154824" stroke-width="0.7"><circle cx="831.2" cy="371.3" r="8.2"/><circle cx="822.8" cy="389.8" r="8.2"/><circle cx="837.4" cy="396.3" r="8.2"/><circle cx="864.1" cy="380.7" r="8.2"/><circle cx="849.6" cy="372.2" r="8.2"/><circle cx="852.1" cy="366.7" r="8.2"/><circle cx="817.2" cy="386.8" r="8.2"/><circle cx="854.4" cy="380.8" r="8.2"/><circle cx="853.7" cy="404.5" r="8.2"/><circle cx="819.6" cy="395.6" r="8.2"/><circle cx="840.3" cy="388.3" r="8.2"/><circle cx="832.3" cy="388.4" r="8.2"/><circle cx="839.7" cy="372.8" r="8.2"/><circle cx="864.5" cy="389.7" r="8.2"/><circle cx="832.8" cy="365.5" r="8.2"/><circle cx="844.4" cy="396.5" r="8.2"/><circle cx="834.5" cy="407.0" r="8.2"/><circle cx="845.6" cy="381.9" r="8.2"/><circle cx="828.2" cy="382.1" r="8.2"/><circle cx="835.2" cy="379.6" r="8.2"/><circle cx="818.9" cy="377.9" r="8.2"/><circle cx="849.7" cy="388.3" r="8.2"/><circle cx="825.8" cy="402.7" r="8.2"/><circle cx="854.4" cy="397.3" r="8.2"/><circle cx="842.6" cy="364.2" r="8.2"/><circle cx="844.4" cy="407.6" r="8.2"/><circle cx="859.7" cy="372.5" r="8.2"/><circle cx="860.8" cy="398.1" r="8.2"/><circle cx="825.9" cy="396.6" r="8.2"/><circle cx="824.4" cy="370.4" r="8.2"/></g>
<g fill="#d8ecf4" stroke="#97a5aa" stroke-width="0.7"><circle cx="925.2" cy="409.8" r="8.2"/><circle cx="915.4" cy="397.6" r="8.2"/><circle cx="896.9" cy="414.1" r="8.2"/><circle cx="901.2" cy="405.8" r="8.2"/><circle cx="921.1" cy="393.9" r="8.2"/><circle cx="906.9" cy="417.7" r="8.2"/><circle cx="900.3" cy="392.0" r="8.2"/><circle cx="911.1" cy="390.3" r="8.2"/><circle cx="926.5" cy="401.3" r="8.2"/><circle cx="892.8" cy="398.2" r="8.2"/><circle cx="909.6" cy="405.8" r="8.2"/><circle cx="891.5" cy="406.7" r="8.2"/><circle cx="917.7" cy="416.0" r="8.2"/><circle cx="904.7" cy="398.8" r="8.2"/></g>
<g fill="#e07018" stroke="#9c4e10" stroke-width="0.7"><circle cx="703.2" cy="384.6" r="8.2"/></g>
<g fill="#c88ec8" stroke="#8c638c" stroke-width="0.7"><circle cx="690.0" cy="399.5" r="8.2"/><circle cx="701.0" cy="399.5" r="8.2"/></g>
<g fill="#f5f5d8" stroke="#abab97" stroke-width="0.7"><circle cx="729.2" cy="407.7" r="8.2"/></g>
<g fill="#c8c8b0" stroke="#8c8c7b" stroke-width="0.7"><circle cx="705.5" cy="417.9" r="8.2"/></g>
<g fill="#8b1a1f" stroke="#611215" stroke-width="0.7"><circle cx="762.3" cy="421.5" r="8.2"/><circle cx="749.2" cy="438.7" r="8.2"/><circle cx="775.1" cy="422.1" r="8.2"/><circle cx="769.6" cy="429.2" r="8.2"/><circle cx="771.7" cy="444.0" r="8.2"/><circle cx="782.7" cy="440.3" r="8.2"/><circle cx="764.0" cy="438.0" r="8.2"/><circle cx="774.3" cy="438.5" r="8.2"/><circle cx="784.8" cy="426.8" r="8.2"/><circle cx="758.9" cy="443.4" r="8.2"/><circle cx="746.3" cy="431.7" r="8.2"/><circle cx="787.7" cy="433.8" r="8.2"/><circle cx="754.7" cy="436.6" r="8.2"/><circle cx="761.4" cy="429.9" r="8.2"/><circle cx="751.3" cy="425.2" r="8.2"/></g>
<g fill="#e8e030" stroke="#a29c21" stroke-width="0.7"><circle cx="822.3" cy="444.5" r="8.2"/></g>
<g fill="#4a3e92" stroke="#332b66" stroke-width="0.7"><circle cx="743.5" cy="462.9" r="8.2"/><circle cx="732.1" cy="461.9" r="8.2"/><circle cx="731.1" cy="449.4" r="8.2"/></g>
<g fill="#8ec88a" stroke="#638c60" stroke-width="0.7"><circle cx="781.9" cy="473.3" r="8.2"/><circle cx="770.5" cy="471.2" r="8.2"/><circle cx="792.2" cy="458.8" r="8.2"/><circle cx="789.1" cy="488.8" r="8.2"/><circle cx="792.2" cy="469.1" r="8.2"/></g>
<g fill="#1e2d60" stroke="#151f43" stroke-width="0.7"><circle cx="826.4" cy="467.0" r="8.2"/><circle cx="832.6" cy="473.3" r="8.2"/><circle cx="824.4" cy="457.7" r="8.2"/><circle cx="836.8" cy="466.0" r="8.2"/></g>
<g fill="#5a4a9a" stroke="#3e336b" stroke-width="0.7"><circle cx="827.5" cy="488.8" r="8.2"/><circle cx="820.2" cy="476.4" r="8.2"/><circle cx="815.0" cy="488.8" r="8.2"/></g>
<g fill="#8a6262" stroke="#604444" stroke-width="0.7"><circle cx="839.6" cy="488.0" r="8.2"/></g>
<g fill="#f0dcea" stroke="#a89aa3" stroke-width="0.7"><circle cx="854.4" cy="485.7" r="8.2"/><circle cx="864.8" cy="494.0" r="8.2"/><circle cx="851.3" cy="497.1" r="8.2"/></g>
<g fill="#9c9c9c" stroke="#6d6d6d" stroke-width="0.7"><circle cx="892.8" cy="460.0" r="8.2"/><circle cx="881.3" cy="482.3" r="8.2"/><circle cx="914.7" cy="467.7" r="8.2"/><circle cx="908.7" cy="448.7" r="8.2"/><circle cx="892.4" cy="442.4" r="8.2"/><circle cx="901.2" cy="443.4" r="8.2"/><circle cx="884.1" cy="446.0" r="8.2"/><circle cx="899.0" cy="482.6" r="8.2"/><circle cx="907.9" cy="466.7" r="8.2"/><circle cx="890.6" cy="468.0" r="8.2"/><circle cx="884.6" cy="458.9" r="8.2"/><circle cx="875.3" cy="463.3" r="8.2"/><circle cx="902.7" cy="458.3" r="8.2"/><circle cx="897.6" cy="488.6" r="8.2"/><circle cx="905.9" cy="485.0" r="8.2"/><circle cx="888.8" cy="487.6" r="8.2"/><circle cx="913.6" cy="457.4" r="8.2"/><circle cx="895.0" cy="475.7" r="8.2"/><circle cx="876.4" cy="473.6" r="8.2"/><circle cx="899.5" cy="467.5" r="8.2"/><circle cx="903.1" cy="474.5" r="8.2"/><circle cx="884.6" cy="476.3" r="8.2"/><circle cx="878.0" cy="453.5" r="8.2"/><circle cx="890.6" cy="450.9" r="8.2"/><circle cx="900.0" cy="450.8" r="8.2"/><circle cx="880.9" cy="466.1" r="8.2"/><circle cx="912.0" cy="477.5" r="8.2"/></g>
<g fill="#1a8080" stroke="#125959" stroke-width="0.7"><circle cx="1102.7" cy="255.7" r="8.2"/><circle cx="1097.2" cy="247.3" r="8.2"/><circle cx="1094.8" cy="261.7" r="8.2"/><circle cx="1089.3" cy="253.3" r="8.2"/></g>
<g fill="#d8a8d8" stroke="#977597" stroke-width="0.7"><circle cx="1116.0" cy="296.0" r="8.2"/><circle cx="1108.5" cy="284.0" r="8.2"/></g>
<g fill="#9a62b0" stroke="#6b447b" stroke-width="0.7"><circle cx="1007.3" cy="268.0" r="8.2"/><circle cx="976.6" cy="272.0" r="8.2"/><circle cx="981.4" cy="263.2" r="8.2"/><circle cx="986.8" cy="305.8" r="8.2"/><circle cx="977.9" cy="303.1" r="8.2"/><circle cx="995.9" cy="304.0" r="8.2"/><circle cx="984.1" cy="254.6" r="8.2"/><circle cx="1000.2" cy="278.1" r="8.2"/><circle cx="980.0" cy="295.9" r="8.2"/><circle cx="995.5" cy="269.4" r="8.2"/><circle cx="1001.4" cy="259.8" r="8.2"/><circle cx="979.3" cy="279.9" r="8.2"/><circle cx="966.5" cy="286.9" r="8.2"/><circle cx="990.4" cy="261.5" r="8.2"/><circle cx="1008.4" cy="289.0" r="8.2"/><circle cx="993.2" cy="255.0" r="8.2"/><circle cx="1009.8" cy="278.4" r="8.2"/><circle cx="965.9" cy="276.2" r="8.2"/><circle cx="988.4" cy="279.0" r="8.2"/><circle cx="1003.5" cy="298.0" r="8.2"/><circle cx="983.7" cy="271.6" r="8.2"/><circle cx="983.7" cy="286.2" r="8.2"/><circle cx="989.0" cy="296.6" r="8.2"/><circle cx="970.8" cy="296.4" r="8.2"/><circle cx="969.1" cy="266.2" r="8.2"/><circle cx="995.5" cy="287.8" r="8.2"/><circle cx="974.7" cy="285.9" r="8.2"/><circle cx="975.5" cy="258.5" r="8.2"/></g>
<g fill="#a82a5a" stroke="#751d3e" stroke-width="0.7"><circle cx="1059.9" cy="310.6" r="8.2"/><circle cx="1033.4" cy="292.2" r="8.2"/><circle cx="1041.1" cy="309.9" r="8.2"/><circle cx="1020.3" cy="311.4" r="8.2"/><circle cx="1054.3" cy="318.5" r="8.2"/><circle cx="1035.3" cy="323.3" r="8.2"/><circle cx="1038.3" cy="316.6" r="8.2"/><circle cx="1045.4" cy="323.1" r="8.2"/><circle cx="1018.9" cy="302.0" r="8.2"/><circle cx="1026.3" cy="319.1" r="8.2"/><circle cx="1034.0" cy="308.0" r="8.2"/><circle cx="1029.7" cy="286.7" r="8.2"/><circle cx="1039.5" cy="284.2" r="8.2"/><circle cx="1057.1" cy="292.4" r="8.2"/><circle cx="1060.9" cy="301.2" r="8.2"/><circle cx="1026.9" cy="299.4" r="8.2"/><circle cx="1038.0" cy="300.1" r="8.2"/><circle cx="1042.1" cy="291.1" r="8.2"/><circle cx="1022.3" cy="293.1" r="8.2"/><circle cx="1047.4" cy="300.8" r="8.2"/><circle cx="1052.7" cy="308.8" r="8.2"/><circle cx="1049.4" cy="286.3" r="8.2"/></g>
<g fill="#8b4a20" stroke="#613316" stroke-width="0.7"><circle cx="1068.4" cy="342.4" r="8.2"/><circle cx="1092.2" cy="334.7" r="8.2"/><circle cx="1081.9" cy="330.7" r="8.2"/><circle cx="1082.2" cy="339.0" r="8.2"/><circle cx="1086.9" cy="349.6" r="8.2"/><circle cx="1094.4" cy="343.1" r="8.2"/><circle cx="1075.3" cy="349.3" r="8.2"/><circle cx="1071.4" cy="334.2" r="8.2"/></g>
<g fill="#4a6a2a" stroke="#334a1d" stroke-width="0.7"><circle cx="1056.5" cy="383.9" r="8.2"/><circle cx="1070.5" cy="373.1" r="8.2"/><circle cx="1063.8" cy="388.8" r="8.2"/><circle cx="1070.8" cy="383.4" r="8.2"/><circle cx="1056.2" cy="373.6" r="8.2"/><circle cx="1063.2" cy="368.2" r="8.2"/></g>
<g fill="#7a1a8a" stroke="#551260" stroke-width="0.7"><circle cx="994.9" cy="375.1" r="8.2"/><circle cx="1017.7" cy="387.8" r="8.2"/><circle cx="987.3" cy="374.7" r="8.2"/><circle cx="998.9" cy="392.3" r="8.2"/><circle cx="989.3" cy="354.2" r="8.2"/><circle cx="999.4" cy="366.9" r="8.2"/><circle cx="1008.9" cy="392.2" r="8.2"/><circle cx="989.9" cy="388.3" r="8.2"/><circle cx="992.1" cy="382.2" r="8.2"/><circle cx="994.7" cy="357.6" r="8.2"/><circle cx="983.2" cy="361.9" r="8.2"/><circle cx="983.6" cy="380.8" r="8.2"/><circle cx="1008.2" cy="365.0" r="8.2"/><circle cx="1017.1" cy="353.7" r="8.2"/><circle cx="1004.8" cy="358.3" r="8.2"/><circle cx="991.1" cy="367.1" r="8.2"/><circle cx="1015.7" cy="374.4" r="8.2"/><circle cx="1001.2" cy="382.9" r="8.2"/><circle cx="981.2" cy="371.4" r="8.2"/><circle cx="1010.8" cy="382.1" r="8.2"/><circle cx="1018.4" cy="366.5" r="8.2"/><circle cx="1004.4" cy="373.2" r="8.2"/><circle cx="1023.4" cy="361.2" r="8.2"/><circle cx="998.1" cy="349.8" r="8.2"/><circle cx="1008.1" cy="349.7" r="8.2"/><circle cx="1025.8" cy="370.6" r="8.2"/><circle cx="1023.8" cy="380.1" r="8.2"/></g>
<g fill="#8a4a3a" stroke="#603328" stroke-width="0.7"><circle cx="937.8" cy="370.2" r="8.2"/></g>
<g fill="#a83030" stroke="#752121" stroke-width="0.7"><circle cx="966.1" cy="391.3" r="8.2"/></g>
<g fill="#f0a020" stroke="#a87016" stroke-width="0.7"><circle cx="1023.6" cy="412.7" r="8.2"/><circle cx="1021.6" cy="402.9" r="8.2"/><circle cx="1038.4" cy="408.6" r="8.2"/><circle cx="1032.0" cy="415.5" r="8.2"/><circle cx="1036.4" cy="398.8" r="8.2"/><circle cx="1028.0" cy="396.0" r="8.2"/></g>
<g fill="#8ec88a" stroke="#638c60" stroke-width="0.7"><circle cx="1053.0" cy="421.0" r="8.2"/><circle cx="1047.5" cy="431.5" r="8.2"/><circle cx="1060.0" cy="411.5" r="8.2"/></g>
<g fill="#c8c0c0" stroke="#8c8686" stroke-width="0.7"><circle cx="1023.5" cy="439.0" r="8.2"/><circle cx="1014.0" cy="445.0" r="8.2"/></g>
<g fill="#8b2020" stroke="#611616" stroke-width="0.7"><circle cx="976.6" cy="435.8" r="8.2"/><circle cx="971.1" cy="444.4" r="8.2"/><circle cx="963.1" cy="437.8" r="8.2"/><circle cx="977.5" cy="426.6" r="8.2"/><circle cx="982.3" cy="442.2" r="8.2"/><circle cx="985.5" cy="433.2" r="8.2"/><circle cx="966.3" cy="428.8" r="8.2"/></g>
<g fill="#f07060" stroke="#a84e43" stroke-width="0.7"><circle cx="981.4" cy="454.4" r="8.2"/><circle cx="986.6" cy="461.6" r="8.2"/><circle cx="995.3" cy="457.2" r="8.2"/><circle cx="990.1" cy="450.0" r="8.2"/></g>
<g fill="#3a62b0" stroke="#28447b" stroke-width="0.7"><circle cx="949.0" cy="69.4" r="8.2"/><circle cx="936.3" cy="41.6" r="8.2"/><circle cx="945.5" cy="60.6" r="8.2"/><circle cx="944.2" cy="36.5" r="8.2"/><circle cx="964.3" cy="59.6" r="8.2"/><circle cx="958.1" cy="66.7" r="8.2"/><circle cx="940.2" cy="51.4" r="8.2"/><circle cx="933.7" cy="59.6" r="8.2"/><circle cx="953.7" cy="36.5" r="8.2"/><circle cx="961.7" cy="41.6" r="8.2"/><circle cx="939.9" cy="66.7" r="8.2"/><circle cx="959.2" cy="52.3" r="8.2"/><circle cx="947.5" cy="42.8" r="8.2"/><circle cx="965.6" cy="50.2" r="8.2"/><circle cx="952.0" cy="53.8" r="8.2"/><circle cx="932.4" cy="50.2" r="8.2"/></g>
<g fill="#cf9fcf" stroke="#906f90" stroke-width="0.7"><circle cx="965.0" cy="88.3" r="8.2"/></g>
<g fill="#c8dcf0" stroke="#8c9aa8" stroke-width="0.7"><circle cx="986.9" cy="136.7" r="8.2"/><circle cx="984.2" cy="154.7" r="8.2"/><circle cx="993.3" cy="158.5" r="8.2"/><circle cx="1009.9" cy="145.7" r="8.2"/><circle cx="991.6" cy="127.2" r="8.2"/><circle cx="990.0" cy="144.5" r="8.2"/><circle cx="978.1" cy="147.5" r="8.2"/><circle cx="1011.7" cy="153.1" r="8.2"/><circle cx="1003.9" cy="136.6" r="8.2"/><circle cx="998.9" cy="146.0" r="8.2"/><circle cx="995.7" cy="120.2" r="8.2"/><circle cx="1001.1" cy="127.0" r="8.2"/><circle cx="979.2" cy="129.5" r="8.2"/><circle cx="976.2" cy="138.4" r="8.2"/><circle cx="1003.2" cy="157.9" r="8.2"/><circle cx="986.2" cy="123.0" r="8.2"/><circle cx="1016.9" cy="145.2" r="8.2"/><circle cx="1017.5" cy="136.0" r="8.2"/><circle cx="1005.5" cy="121.9" r="8.2"/><circle cx="994.8" cy="137.9" r="8.2"/><circle cx="1013.3" cy="127.6" r="8.2"/></g>
<g fill="#c8622e" stroke="#8c4420" stroke-width="0.7"><circle cx="1045.1" cy="143.9" r="8.2"/><circle cx="1041.4" cy="121.1" r="8.2"/><circle cx="1050.6" cy="115.4" r="8.2"/><circle cx="1029.3" cy="144.2" r="8.2"/><circle cx="1034.4" cy="112.4" r="8.2"/><circle cx="1023.4" cy="136.6" r="8.2"/><circle cx="1044.7" cy="107.8" r="8.2"/><circle cx="1050.8" cy="136.2" r="8.2"/><circle cx="1040.9" cy="136.8" r="8.2"/><circle cx="1021.2" cy="126.3" r="8.2"/><circle cx="1035.3" cy="129.2" r="8.2"/><circle cx="1028.9" cy="108.1" r="8.2"/><circle cx="1046.4" cy="129.4" r="8.2"/><circle cx="1037.2" cy="146.8" r="8.2"/><circle cx="1052.8" cy="125.7" r="8.2"/><circle cx="1023.2" cy="115.8" r="8.2"/><circle cx="1029.3" cy="137.5" r="8.2"/><circle cx="1036.8" cy="105.2" r="8.2"/><circle cx="1030.0" cy="120.6" r="8.2"/></g>
<g fill="#7659a8" stroke="#523e75" stroke-width="0.7"><circle cx="960.6" cy="190.8" r="8.2"/><circle cx="950.5" cy="173.9" r="8.2"/><circle cx="927.7" cy="183.2" r="8.2"/><circle cx="936.5" cy="198.0" r="8.2"/><circle cx="964.5" cy="182.0" r="8.2"/><circle cx="926.5" cy="173.1" r="8.2"/><circle cx="933.4" cy="190.1" r="8.2"/><circle cx="934.8" cy="167.9" r="8.2"/><circle cx="920.7" cy="180.6" r="8.2"/><circle cx="957.5" cy="181.8" r="8.2"/><circle cx="918.3" cy="189.3" r="8.2"/><circle cx="931.4" cy="212.4" r="8.2"/><circle cx="924.0" cy="206.2" r="8.2"/><circle cx="955.1" cy="165.9" r="8.2"/><circle cx="941.1" cy="207.4" r="8.2"/><circle cx="951.1" cy="205.7" r="8.2"/><circle cx="977.7" cy="192.7" r="8.2"/><circle cx="976.6" cy="183.8" r="8.2"/><circle cx="964.6" cy="169.6" r="8.2"/><circle cx="975.3" cy="201.4" r="8.2"/><circle cx="959.8" cy="207.4" r="8.2"/><circle cx="919.4" cy="198.2" r="8.2"/><circle cx="940.9" cy="216.1" r="8.2"/><circle cx="944.8" cy="165.4" r="8.2"/><circle cx="950.6" cy="190.5" r="8.2"/><circle cx="961.2" cy="214.1" r="8.2"/><circle cx="956.0" cy="198.9" r="8.2"/><circle cx="935.8" cy="181.9" r="8.2"/><circle cx="969.5" cy="208.9" r="8.2"/><circle cx="945.2" cy="198.0" r="8.2"/><circle cx="965.3" cy="197.6" r="8.2"/><circle cx="951.2" cy="216.6" r="8.2"/><circle cx="945.7" cy="182.6" r="8.2"/><circle cx="927.3" cy="196.9" r="8.2"/><circle cx="972.0" cy="175.8" r="8.2"/><circle cx="933.8" cy="206.6" r="8.2"/><circle cx="942.5" cy="174.8" r="8.2"/><circle cx="969.3" cy="191.4" r="8.2"/><circle cx="941.7" cy="191.3" r="8.2"/></g>
<g fill="#d0a0d0" stroke="#917091" stroke-width="0.7"><circle cx="1021.2" cy="212.3" r="8.2"/><circle cx="1043.2" cy="236.1" r="8.2"/><circle cx="1044.0" cy="213.2" r="8.2"/><circle cx="1022.9" cy="201.5" r="8.2"/><circle cx="1056.8" cy="211.7" r="8.2"/><circle cx="1031.2" cy="221.4" r="8.2"/><circle cx="1027.7" cy="192.8" r="8.2"/><circle cx="1048.9" cy="204.6" r="8.2"/><circle cx="1050.3" cy="231.2" r="8.2"/><circle cx="1034.8" cy="187.9" r="8.2"/><circle cx="1042.7" cy="187.8" r="8.2"/><circle cx="1023.1" cy="223.1" r="8.2"/><circle cx="1028.1" cy="231.6" r="8.2"/><circle cx="1054.9" cy="200.9" r="8.2"/><circle cx="1031.2" cy="203.0" r="8.2"/><circle cx="1045.1" cy="227.8" r="8.2"/><circle cx="1036.7" cy="212.9" r="8.2"/><circle cx="1035.3" cy="229.7" r="8.2"/><circle cx="1035.8" cy="194.0" r="8.2"/><circle cx="1041.1" cy="221.3" r="8.2"/><circle cx="1049.9" cy="192.4" r="8.2"/><circle cx="1039.0" cy="202.7" r="8.2"/><circle cx="1048.8" cy="220.8" r="8.2"/><circle cx="1043.5" cy="196.8" r="8.2"/><circle cx="1055.1" cy="222.5" r="8.2"/><circle cx="1035.3" cy="236.2" r="8.2"/></g>
<g fill="#848424" stroke="#5c5c19" stroke-width="0.7"><circle cx="1081.5" cy="190.6" r="8.2"/><circle cx="1094.7" cy="197.8" r="8.2"/><circle cx="1090.6" cy="189.1" r="8.2"/><circle cx="1088.2" cy="204.7" r="8.2"/><circle cx="1080.0" cy="200.2" r="8.2"/><circle cx="1085.4" cy="197.0" r="8.2"/></g>
<ellipse cx="912.6" cy="334.5" rx="25.6" ry="19.5" fill="#8a7f76"/>
<text x="770.0" y="100.8" font-size="11.5" text-anchor="middle" font-weight="normal" font-style="normal" fill="#000" >MADS</text>
<text x="875.5" y="116.4" font-size="11.5" text-anchor="middle" font-weight="normal" font-style="normal" fill="#fff" >C2H2 (23)</text>
<text x="830.0" y="181.2" font-size="11.5" text-anchor="middle" font-weight="normal" font-style="normal" fill="#fff" >AP2/ERF (28)</text>
<text x="762.0" y="227.5" font-size="11.5" text-anchor="middle" font-weight="normal" font-style="normal" fill="#000" >C3H (17)</text>
<text x="997.5" y="148.5" font-size="11.5" text-anchor="middle" font-weight="normal" font-style="normal" fill="#000" >GRAS (21)</text>
<text x="952.0" y="191.4" font-size="11.5" text-anchor="middle" font-weight="normal" font-style="normal" fill="#fff" >bHLH (37)</text>
<text x="1039.3" y="220.3" font-size="11.5" text-anchor="middle" font-weight="normal" font-style="normal" fill="#000" >HB-HD-ZIP</text>
<text x="1039.3" y="234.2" font-size="11.5" text-anchor="middle" font-weight="normal" font-style="normal" fill="#000" >(14)</text>
<text x="704.5" y="258.6" font-size="11.5" text-anchor="middle" font-weight="normal" font-style="normal" fill="#fff" >SET (19)</text>
<text x="795.0" y="286.0" font-size="11.5" text-anchor="middle" font-weight="normal" font-style="normal" fill="#000" >FAR1 (26)</text>
<text x="882.0" y="266.1" font-size="13" text-anchor="middle" font-weight="bold" font-style="normal" fill="#000" >MYB (65)</text>
<text x="912.6" y="337.6" font-size="15" text-anchor="middle" font-weight="bold" font-style="normal" fill="#000" >CsOG3</text>
<text x="759.0" y="393.0" font-size="11.5" text-anchor="middle" font-weight="normal" font-style="normal" fill="#000" >PHD (15)</text>
<text x="842.7" y="391.4" font-size="11.5" text-anchor="middle" font-weight="normal" font-style="normal" fill="#fff" >GARP (20)</text>
<text x="990.8" y="281.7" font-size="11.5" text-anchor="middle" font-weight="normal" font-style="normal" fill="#fff" >bZIP (24)</text>
<text x="1005.7" y="377.9" font-size="11.5" text-anchor="middle" font-weight="normal" font-style="normal" fill="#fff" >NAC (18)</text>
</svg></body></html>
